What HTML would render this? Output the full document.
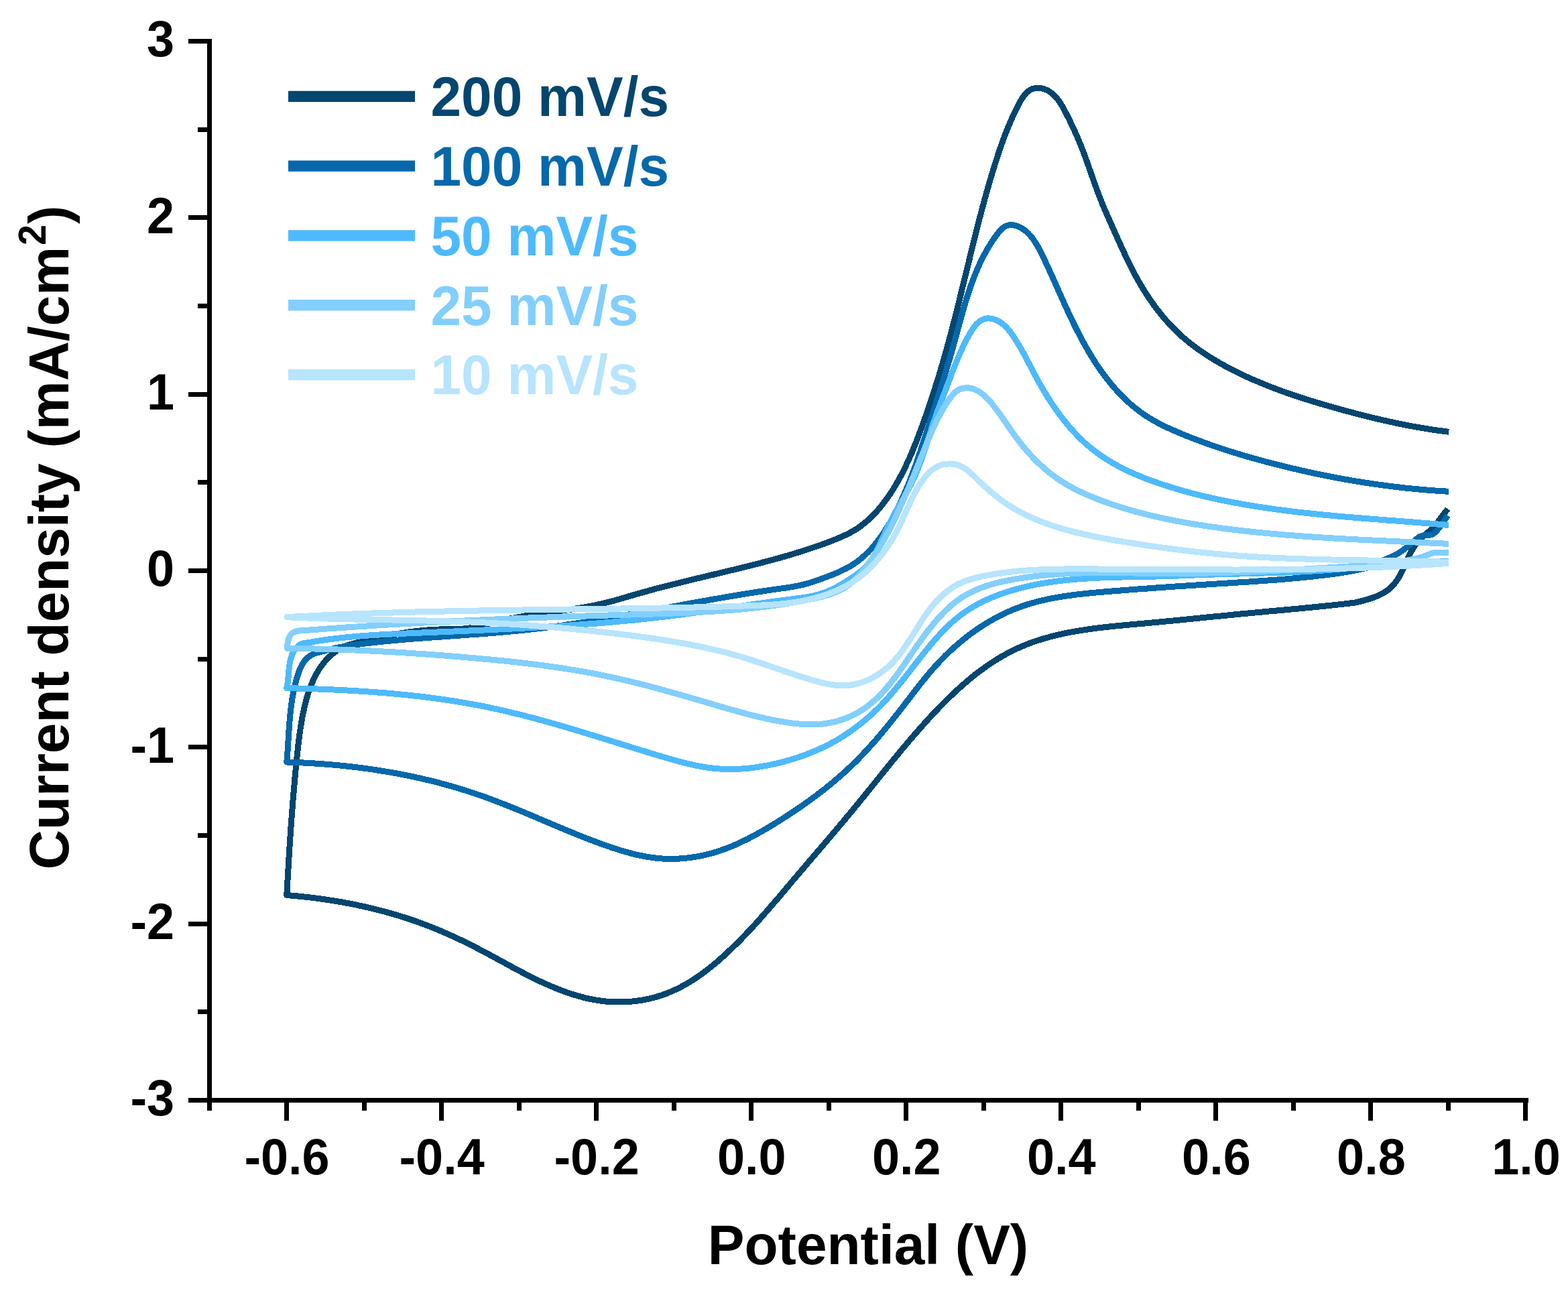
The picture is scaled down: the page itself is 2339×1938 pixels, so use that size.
<!DOCTYPE html>
<html lang="en"><head><meta charset="utf-8"><title>Cyclic voltammetry</title>
<style>html,body{margin:0;padding:0;background:#fff}svg{display:block}text{font-family:"Liberation Sans",sans-serif;font-weight:bold}</style></head><body>
<svg width="2339" height="1938" viewBox="0 0 2339 1938" role="img" aria-label="Cyclic voltammograms at scan rates from 10 to 200 mV/s">
<rect width="2339" height="1938" fill="#fff"/>
<g fill="none" stroke-width="9.0" stroke-linejoin="round" stroke-linecap="butt" shape-rendering="crispEdges">
<path d="M2159.7 759.3 C2159.0 760.2 2156.7 763.0 2155.2 764.8 C2153.8 766.7 2152.4 768.6 2151.0 770.4 C2149.6 772.3 2148.2 774.2 2146.8 776.1 C2145.4 777.9 2144.0 779.8 2142.5 781.6 C2141.0 783.4 2139.5 785.1 2137.9 786.8 C2136.3 788.5 2134.5 790.2 2132.8 791.8 C2131.0 793.4 2129.2 794.9 2127.4 796.5 C2125.6 798.1 2123.7 799.6 2122.0 801.2 C2120.2 802.8 2118.5 804.4 2116.9 806.1 C2115.3 807.8 2113.8 809.6 2112.4 811.4 C2111.1 813.2 2109.8 815.1 2108.6 817.0 C2107.3 819.0 2106.2 821.0 2105.1 823.0 C2104.0 825.1 2103.0 827.2 2102.0 829.3 C2101.0 831.4 2100.0 833.5 2099.1 835.7 C2098.1 837.8 2097.2 840.0 2096.2 842.2 C2095.2 844.4 2094.2 846.6 2093.2 848.7 C2092.2 850.9 2091.1 853.0 2090.0 855.2 C2088.9 857.3 2087.8 859.4 2086.6 861.4 C2085.3 863.4 2084.1 865.4 2082.7 867.3 C2081.4 869.2 2080.0 871.0 2078.4 872.8 C2076.9 874.5 2075.3 876.1 2073.6 877.6 C2071.8 879.2 2070.0 880.6 2068.1 881.9 C2066.2 883.2 2064.2 884.4 2062.1 885.5 C2060.0 886.7 2057.9 887.7 2055.7 888.7 C2053.5 889.6 2051.3 890.5 2049.1 891.3 C2046.8 892.2 2044.5 892.9 2042.2 893.6 C2039.9 894.4 2037.6 895.0 2035.3 895.6 C2033.1 896.3 2030.8 896.8 2028.5 897.4 C2026.3 898.0 2023.0 898.7 2021.9 899.0 L2021.9 899.0 C2020.2 899.2 2015.3 899.8 2012.0 900.2 C2008.7 900.6 2005.3 901.0 2002.0 901.3 C1998.7 901.7 1995.3 902.1 1992.0 902.5 C1988.7 902.8 1985.3 903.2 1982.0 903.5 C1978.6 903.9 1975.3 904.2 1971.9 904.6 C1968.5 904.9 1965.2 905.3 1961.8 905.6 C1958.5 905.9 1955.1 906.3 1951.7 906.6 C1948.3 906.9 1945.0 907.2 1941.6 907.6 C1938.2 907.9 1934.8 908.2 1931.5 908.5 C1928.1 908.8 1924.7 909.1 1921.3 909.5 C1918.0 909.8 1914.6 910.1 1911.2 910.4 C1907.8 910.7 1904.5 911.0 1901.1 911.3 C1897.7 911.6 1894.3 911.9 1891.0 912.2 C1887.6 912.6 1884.2 912.9 1880.9 913.2 C1877.5 913.5 1874.2 913.8 1870.8 914.1 C1867.4 914.4 1864.1 914.7 1860.8 915.1 C1857.4 915.4 1854.1 915.7 1850.7 916.0 C1847.4 916.3 1844.1 916.7 1840.7 917.0 C1837.4 917.3 1834.1 917.6 1830.8 918.0 C1827.4 918.3 1824.1 918.6 1820.8 919.0 C1817.5 919.3 1814.2 919.6 1810.8 919.9 C1807.5 920.3 1804.2 920.6 1800.9 920.9 C1797.6 921.3 1794.3 921.6 1790.9 921.9 C1787.6 922.3 1784.3 922.6 1781.0 922.9 C1777.7 923.2 1774.3 923.6 1771.0 923.9 C1767.7 924.2 1764.4 924.6 1761.0 924.9 C1757.7 925.2 1754.4 925.5 1751.1 925.9 C1747.7 926.2 1744.4 926.5 1741.0 926.8 C1737.7 927.2 1734.4 927.5 1731.0 927.8 C1727.6 928.1 1724.3 928.4 1720.9 928.7 C1717.6 929.1 1714.2 929.4 1710.8 929.7 C1707.5 930.0 1704.1 930.3 1700.7 930.6 C1697.3 930.9 1693.9 931.2 1690.5 931.5 C1687.1 931.8 1683.7 932.1 1680.3 932.4 C1676.9 932.8 1673.5 933.1 1670.1 933.4 C1666.7 933.7 1663.3 934.1 1659.9 934.4 C1656.5 934.8 1653.1 935.2 1649.7 935.5 C1646.3 935.9 1642.9 936.3 1639.5 936.7 C1636.1 937.1 1632.7 937.6 1629.4 938.0 C1626.0 938.5 1622.6 939.0 1619.2 939.5 C1615.9 940.0 1612.5 940.5 1609.2 941.0 C1605.8 941.6 1602.5 942.2 1599.2 942.8 C1595.8 943.4 1592.5 944.1 1589.2 944.7 C1585.9 945.4 1582.6 946.1 1579.4 946.9 C1576.1 947.6 1572.8 948.4 1569.6 949.3 C1566.3 950.1 1563.1 951.0 1559.9 951.9 C1556.7 952.8 1553.5 953.8 1550.4 954.8 C1547.2 955.8 1544.0 956.8 1540.9 957.9 C1537.8 959.1 1534.7 960.2 1531.6 961.4 C1528.5 962.6 1525.5 963.9 1522.4 965.2 C1519.4 966.5 1516.4 967.9 1513.4 969.3 C1510.4 970.8 1507.5 972.3 1504.5 973.8 C1501.6 975.4 1498.7 977.0 1495.8 978.6 C1492.9 980.3 1490.1 982.0 1487.2 983.7 C1484.4 985.5 1481.6 987.3 1478.8 989.1 C1476.0 990.9 1473.3 992.8 1470.5 994.8 C1467.8 996.7 1465.1 998.7 1462.4 1000.7 C1459.7 1002.7 1457.0 1004.7 1454.3 1006.8 C1451.7 1008.9 1449.0 1011.0 1446.4 1013.2 C1443.8 1015.4 1441.2 1017.5 1438.7 1019.8 C1436.1 1022.0 1433.6 1024.2 1431.0 1026.5 C1428.5 1028.8 1426.0 1031.1 1423.5 1033.4 C1421.0 1035.8 1418.5 1038.1 1416.1 1040.5 C1413.6 1042.9 1411.2 1045.3 1408.8 1047.7 C1406.4 1050.1 1404.0 1052.6 1401.6 1055.0 C1399.2 1057.5 1396.9 1059.9 1394.5 1062.4 C1392.2 1064.9 1389.8 1067.4 1387.5 1069.9 C1385.2 1072.4 1382.9 1074.9 1380.6 1077.5 C1378.4 1080.0 1376.1 1082.5 1373.9 1085.0 C1371.6 1087.6 1369.4 1090.1 1367.1 1092.7 C1364.9 1095.2 1362.7 1097.8 1360.5 1100.3 C1358.3 1102.9 1356.1 1105.5 1354.0 1108.0 C1351.8 1110.6 1349.6 1113.2 1347.5 1115.7 C1345.3 1118.3 1343.2 1120.9 1341.0 1123.5 C1338.9 1126.1 1336.8 1128.7 1334.6 1131.3 C1332.5 1133.8 1330.4 1136.4 1328.3 1139.0 C1326.2 1141.6 1324.1 1144.2 1322.0 1146.8 C1319.9 1149.4 1317.8 1152.0 1315.7 1154.6 C1313.5 1157.2 1311.5 1159.8 1309.4 1162.4 C1307.3 1165.1 1305.2 1167.7 1303.1 1170.3 C1301.0 1172.9 1298.9 1175.5 1296.8 1178.1 C1294.7 1180.7 1292.6 1183.3 1290.5 1185.9 C1288.4 1188.5 1286.2 1191.1 1284.1 1193.7 C1282.0 1196.3 1279.9 1198.9 1277.8 1201.5 C1275.6 1204.1 1273.5 1206.7 1271.4 1209.3 C1269.2 1211.9 1267.1 1214.5 1264.9 1217.0 C1262.8 1219.6 1260.6 1222.2 1258.5 1224.8 C1256.3 1227.4 1254.1 1230.0 1251.9 1232.6 C1249.8 1235.1 1247.6 1237.7 1245.4 1240.3 C1243.2 1242.9 1241.0 1245.4 1238.9 1248.0 C1236.7 1250.6 1234.5 1253.2 1232.3 1255.7 C1230.1 1258.3 1227.9 1260.9 1225.7 1263.4 C1223.5 1266.0 1221.3 1268.6 1219.1 1271.1 C1216.9 1273.7 1214.7 1276.3 1212.5 1278.9 C1210.3 1281.4 1208.1 1284.0 1205.9 1286.6 C1203.7 1289.1 1201.6 1291.7 1199.4 1294.3 C1197.2 1296.8 1195.0 1299.4 1192.8 1302.0 C1190.6 1304.5 1188.4 1307.1 1186.3 1309.7 C1184.1 1312.2 1181.9 1314.8 1179.7 1317.4 C1177.6 1320.0 1175.4 1322.5 1173.2 1325.1 C1171.1 1327.7 1168.9 1330.2 1166.7 1332.8 C1164.5 1335.4 1162.4 1337.9 1160.2 1340.5 C1158.0 1343.0 1155.8 1345.6 1153.6 1348.1 C1151.4 1350.7 1149.3 1353.2 1147.1 1355.7 C1144.9 1358.3 1142.6 1360.8 1140.4 1363.3 C1138.2 1365.9 1136.0 1368.4 1133.7 1370.9 C1131.5 1373.4 1129.2 1375.9 1127.0 1378.4 C1124.7 1380.9 1122.4 1383.3 1120.1 1385.8 C1117.8 1388.3 1115.5 1390.7 1113.2 1393.2 C1110.9 1395.6 1108.5 1398.0 1106.2 1400.5 C1103.8 1402.9 1101.4 1405.3 1099.0 1407.7 C1096.6 1410.1 1094.2 1412.4 1091.7 1414.8 C1089.3 1417.2 1086.8 1419.5 1084.3 1421.8 C1081.8 1424.2 1079.3 1426.5 1076.8 1428.7 C1074.2 1431.0 1071.6 1433.3 1069.0 1435.5 C1066.4 1437.7 1063.8 1439.9 1061.2 1442.0 C1058.5 1444.2 1055.9 1446.3 1053.2 1448.3 C1050.4 1450.4 1047.7 1452.4 1045.0 1454.4 C1042.2 1456.3 1039.4 1458.3 1036.6 1460.1 C1033.8 1462.0 1030.9 1463.8 1028.1 1465.5 C1025.2 1467.3 1022.3 1468.9 1019.3 1470.5 C1016.4 1472.2 1013.4 1473.7 1010.4 1475.2 C1007.4 1476.6 1004.4 1478.0 1001.3 1479.3 C998.3 1480.6 995.2 1481.9 992.1 1483.0 C988.9 1484.2 985.8 1485.2 982.6 1486.2 C979.4 1487.2 976.2 1488.1 973.0 1488.9 C969.7 1489.7 966.5 1490.4 963.2 1491.1 C959.9 1491.8 956.6 1492.3 953.3 1492.8 C950.0 1493.3 946.7 1493.7 943.4 1494.0 C940.1 1494.4 936.7 1494.6 933.4 1494.8 C930.0 1494.9 926.7 1495.0 923.3 1495.0 C920.0 1495.0 916.6 1494.9 913.3 1494.7 C910.0 1494.6 906.6 1494.3 903.3 1494.0 C899.9 1493.6 896.6 1493.2 893.3 1492.7 C890.0 1492.2 886.7 1491.7 883.4 1491.0 C880.1 1490.4 876.8 1489.7 873.5 1488.9 C870.2 1488.1 867.0 1487.2 863.7 1486.3 C860.4 1485.4 857.2 1484.4 854.0 1483.4 C850.7 1482.4 847.5 1481.3 844.3 1480.2 C841.1 1479.0 838.0 1477.9 834.8 1476.6 C831.6 1475.4 828.5 1474.1 825.3 1472.8 C822.2 1471.5 819.1 1470.2 816.0 1468.8 C812.9 1467.4 809.8 1466.0 806.7 1464.6 C803.6 1463.1 800.6 1461.7 797.6 1460.2 C794.5 1458.7 791.5 1457.2 788.5 1455.7 C785.5 1454.1 782.5 1452.6 779.5 1451.0 C776.5 1449.4 773.5 1447.9 770.5 1446.3 C767.6 1444.7 764.6 1443.1 761.6 1441.5 C758.7 1439.9 755.7 1438.3 752.8 1436.6 C749.8 1435.0 746.8 1433.4 743.9 1431.8 C740.9 1430.2 738.0 1428.6 735.0 1427.0 C732.1 1425.3 729.1 1423.7 726.1 1422.2 C723.2 1420.6 720.2 1419.0 717.2 1417.4 C714.2 1415.9 711.2 1414.3 708.2 1412.8 C705.3 1411.2 702.2 1409.7 699.2 1408.2 C696.2 1406.7 693.2 1405.2 690.2 1403.8 C687.2 1402.3 684.1 1400.9 681.1 1399.5 C678.0 1398.0 675.0 1396.6 671.9 1395.3 C668.8 1393.9 665.8 1392.5 662.7 1391.2 C659.6 1389.8 656.5 1388.5 653.4 1387.2 C650.3 1385.9 647.2 1384.7 644.1 1383.4 C641.0 1382.2 637.8 1381.0 634.7 1379.8 C631.5 1378.6 628.4 1377.4 625.2 1376.3 C622.1 1375.1 618.9 1374.0 615.7 1372.9 C612.5 1371.8 609.3 1370.7 606.1 1369.7 C602.9 1368.7 599.7 1367.7 596.5 1366.7 C593.3 1365.7 590.0 1364.7 586.8 1363.8 C583.6 1362.8 580.3 1361.9 577.1 1361.0 C573.8 1360.1 570.6 1359.2 567.3 1358.4 C564.0 1357.5 560.7 1356.7 557.5 1355.9 C554.2 1355.1 550.9 1354.3 547.6 1353.6 C544.3 1352.8 541.0 1352.1 537.7 1351.4 C534.4 1350.7 531.1 1350.0 527.8 1349.3 C524.5 1348.7 521.2 1348.0 517.9 1347.4 C514.5 1346.8 511.2 1346.2 507.9 1345.6 C504.6 1345.0 501.2 1344.5 497.9 1343.9 C494.6 1343.4 491.2 1342.9 487.9 1342.4 C484.6 1341.9 481.2 1341.4 477.9 1340.9 C474.6 1340.5 471.2 1340.0 467.9 1339.6 C464.5 1339.2 461.2 1338.8 457.9 1338.4 C454.5 1338.0 451.2 1337.7 447.8 1337.3 C444.5 1337.0 441.2 1336.7 437.8 1336.4 C434.5 1336.1 429.5 1335.6 427.8 1335.5 L427.8 1335.5 C427.9 1333.8 428.2 1328.6 428.3 1325.2 C428.5 1321.8 428.7 1318.3 428.9 1314.9 C429.1 1311.5 429.3 1308.1 429.5 1304.6 C429.7 1301.2 429.9 1297.8 430.1 1294.4 C430.3 1290.9 430.5 1287.5 430.7 1284.1 C430.9 1280.6 431.1 1277.2 431.3 1273.8 C431.5 1270.4 431.8 1266.9 432.0 1263.5 C432.2 1260.1 432.4 1256.7 432.7 1253.3 C432.9 1249.8 433.1 1246.4 433.4 1243.0 C433.6 1239.6 433.8 1236.1 434.1 1232.7 C434.3 1229.3 434.6 1225.9 434.8 1222.5 C435.1 1219.0 435.3 1215.6 435.6 1212.2 C435.9 1208.8 436.1 1205.4 436.4 1201.9 C436.7 1198.5 437.0 1195.1 437.2 1191.7 C437.5 1188.3 437.8 1184.8 438.1 1181.4 C438.4 1178.0 438.7 1174.6 439.0 1171.2 C439.3 1167.8 439.6 1164.3 439.9 1160.9 C440.2 1157.5 440.6 1154.1 440.9 1150.7 C441.2 1147.3 441.5 1143.8 441.9 1140.4 C442.2 1137.0 442.6 1133.6 442.9 1130.2 C443.3 1126.8 443.6 1123.4 444.0 1119.9 C444.3 1116.5 444.7 1113.1 445.1 1109.7 C445.5 1106.3 445.9 1102.9 446.4 1099.5 C446.8 1096.1 447.3 1092.7 447.8 1089.3 C448.3 1085.9 448.8 1082.5 449.4 1079.1 C449.9 1075.7 450.5 1072.4 451.2 1069.0 C451.8 1065.6 452.5 1062.2 453.3 1058.9 C454.0 1055.5 454.8 1052.1 455.7 1048.8 C456.5 1045.5 457.4 1042.1 458.4 1038.8 C459.4 1035.5 460.4 1032.2 461.6 1029.0 C462.7 1025.7 463.9 1022.5 465.2 1019.4 C466.6 1016.2 468.0 1013.1 469.5 1010.1 C471.0 1007.0 472.6 1004.0 474.4 1001.1 C476.1 998.3 478.0 995.4 480.0 992.7 C482.0 990.0 484.2 987.3 486.4 984.8 C488.7 982.3 491.2 979.9 493.8 977.6 C496.3 975.3 500.6 972.1 502.0 971.0 L502.0 971.0 C503.4 970.2 507.7 967.4 510.7 966.0 C513.6 964.5 516.7 963.4 519.9 962.3 C523.0 961.2 526.3 960.4 529.5 959.6 C532.7 958.7 536.0 958.1 539.3 957.3 C542.6 956.6 545.9 955.8 549.2 955.1 C552.4 954.3 555.7 953.5 559.0 952.8 C562.3 952.0 565.5 951.2 568.8 950.5 C572.1 949.8 575.4 949.1 578.7 948.4 C582.0 947.7 585.3 947.1 588.5 946.5 C591.8 945.9 595.1 945.3 598.4 944.7 C601.7 944.2 605.1 943.7 608.4 943.2 C611.7 942.7 615.0 942.3 618.3 941.9 C621.6 941.5 625.0 941.1 628.3 940.8 C631.6 940.4 635.0 940.1 638.3 939.9 C641.6 939.6 645.0 939.4 648.3 939.3 C651.7 939.1 655.0 939.0 658.4 938.9 C661.8 938.8 665.1 938.8 668.5 938.8 C671.9 938.7 675.2 938.7 678.6 938.6 C682.0 938.6 685.3 938.5 688.6 938.2 C692.0 938.0 695.3 937.7 698.6 937.3 C701.9 936.9 705.2 936.3 708.5 935.6 C711.8 935.0 715.0 934.2 718.3 933.3 C721.5 932.5 724.7 931.6 728.0 930.8 C731.2 929.9 734.5 929.0 737.7 928.2 C741.0 927.4 744.2 926.6 747.5 925.9 C750.8 925.1 754.1 924.4 757.3 923.7 C760.6 923.0 763.9 922.4 767.2 921.8 C770.5 921.1 773.8 920.5 777.1 920.0 C780.4 919.4 783.7 918.9 787.0 918.3 C790.3 917.8 793.6 917.3 797.0 916.8 C800.3 916.3 803.6 915.8 806.9 915.4 C810.3 914.9 813.6 914.4 816.9 914.0 C820.3 913.5 823.6 913.1 826.9 912.6 C830.3 912.2 833.6 911.7 836.9 911.2 C840.3 910.8 843.6 910.3 846.9 909.8 C850.2 909.3 853.6 908.9 856.9 908.3 C860.2 907.8 863.5 907.3 866.8 906.8 C870.1 906.2 873.4 905.6 876.7 905.0 C880.0 904.4 883.3 903.8 886.6 903.1 C889.9 902.4 893.1 901.7 896.4 901.0 C899.7 900.3 902.9 899.5 906.2 898.7 C909.4 897.8 912.6 897.0 915.9 896.1 C919.1 895.2 922.3 894.3 925.5 893.4 C928.7 892.5 932.0 891.5 935.2 890.6 C938.4 889.6 941.6 888.7 944.8 887.8 C948.0 886.8 951.2 885.9 954.5 885.0 C957.7 884.1 960.9 883.1 964.2 882.3 C967.4 881.4 970.6 880.5 973.9 879.6 C977.1 878.7 980.3 877.9 983.6 877.0 C986.8 876.2 990.1 875.3 993.3 874.5 C996.6 873.7 999.8 872.8 1003.1 872.0 C1006.3 871.2 1009.6 870.4 1012.9 869.6 C1016.1 868.8 1019.4 868.0 1022.6 867.2 C1025.9 866.4 1029.2 865.6 1032.4 864.8 C1035.7 864.0 1039.0 863.2 1042.2 862.5 C1045.5 861.7 1048.8 860.9 1052.0 860.1 C1055.3 859.3 1058.6 858.6 1061.8 857.8 C1065.1 857.0 1068.4 856.2 1071.6 855.4 C1074.9 854.7 1078.2 853.9 1081.4 853.1 C1084.7 852.3 1088.0 851.5 1091.2 850.7 C1094.5 850.0 1097.8 849.2 1101.0 848.4 C1104.3 847.6 1107.5 846.8 1110.8 846.0 C1114.0 845.2 1117.3 844.3 1120.5 843.5 C1123.8 842.7 1127.0 841.9 1130.3 841.0 C1133.5 840.2 1136.8 839.4 1140.0 838.5 C1143.2 837.7 1146.5 836.8 1149.7 835.9 C1152.9 835.1 1156.2 834.2 1159.4 833.3 C1162.6 832.4 1165.8 831.5 1169.0 830.6 C1172.2 829.6 1175.4 828.7 1178.7 827.8 C1181.9 826.8 1185.0 825.8 1188.2 824.9 C1191.4 823.9 1194.6 822.9 1197.8 821.9 C1201.0 820.9 1204.2 819.9 1207.3 818.8 C1210.5 817.8 1213.6 816.7 1216.8 815.6 C1220.0 814.5 1223.1 813.4 1226.3 812.3 C1229.4 811.2 1232.6 810.0 1235.7 808.8 C1238.9 807.6 1242.0 806.4 1245.2 805.1 C1248.3 803.8 1251.5 802.5 1254.6 801.2 C1257.7 799.8 1260.9 798.4 1263.9 796.9 C1267.0 795.4 1270.0 793.8 1272.9 792.1 C1275.8 790.4 1278.7 788.6 1281.4 786.7 C1284.2 784.8 1286.8 782.7 1289.4 780.6 C1292.0 778.5 1294.5 776.3 1297.0 774.1 C1299.4 771.8 1301.8 769.4 1304.0 767.0 C1306.3 764.6 1308.6 762.2 1310.7 759.6 C1312.9 757.1 1315.0 754.5 1317.0 751.9 C1319.1 749.3 1321.1 746.6 1323.0 743.9 C1325.0 741.2 1326.8 738.4 1328.7 735.7 C1330.5 732.9 1332.3 730.1 1334.0 727.2 C1335.7 724.4 1337.4 721.5 1339.1 718.6 C1340.7 715.7 1342.3 712.8 1343.9 709.8 C1345.5 706.9 1347.0 703.9 1348.5 700.9 C1350.0 697.9 1351.4 694.8 1352.8 691.8 C1354.2 688.7 1355.6 685.7 1357.0 682.6 C1358.3 679.5 1359.7 676.4 1361.0 673.3 C1362.3 670.2 1363.5 667.0 1364.8 663.9 C1366.1 660.8 1367.3 657.6 1368.5 654.5 C1369.7 651.3 1370.9 648.2 1372.1 645.0 C1373.3 641.9 1374.4 638.7 1375.6 635.5 C1376.7 632.4 1377.9 629.2 1379.0 626.0 C1380.1 622.9 1381.3 619.7 1382.4 616.5 C1383.5 613.4 1384.6 610.2 1385.6 607.0 C1386.7 603.9 1387.8 600.7 1388.8 597.5 C1389.9 594.3 1390.9 591.1 1392.0 588.0 C1393.0 584.8 1394.0 581.6 1395.0 578.4 C1396.0 575.2 1397.0 572.0 1398.0 568.9 C1399.0 565.7 1400.0 562.5 1401.0 559.3 C1401.9 556.1 1402.9 552.9 1403.8 549.7 C1404.8 546.5 1405.7 543.3 1406.7 540.1 C1407.6 536.9 1408.5 533.6 1409.4 530.4 C1410.3 527.2 1411.2 524.0 1412.1 520.8 C1413.0 517.6 1413.9 514.3 1414.8 511.1 C1415.7 507.9 1416.6 504.7 1417.4 501.4 C1418.3 498.2 1419.1 495.0 1420.0 491.7 C1420.8 488.5 1421.7 485.2 1422.5 482.0 C1423.4 478.7 1424.2 475.5 1425.0 472.2 C1425.8 469.0 1426.7 465.7 1427.5 462.5 C1428.3 459.2 1429.1 456.0 1429.9 452.7 C1430.7 449.5 1431.5 446.2 1432.3 442.9 C1433.1 439.7 1433.9 436.4 1434.7 433.2 C1435.5 429.9 1436.3 426.6 1437.1 423.4 C1437.9 420.1 1438.7 416.8 1439.5 413.6 C1440.3 410.3 1441.1 407.1 1441.9 403.8 C1442.7 400.5 1443.5 397.3 1444.3 394.0 C1445.1 390.7 1445.9 387.5 1446.7 384.2 C1447.5 380.9 1448.3 377.7 1449.1 374.4 C1449.9 371.1 1450.7 367.9 1451.5 364.6 C1452.3 361.4 1453.1 358.1 1453.9 354.8 C1454.7 351.6 1455.5 348.3 1456.4 345.1 C1457.2 341.8 1458.0 338.6 1458.8 335.3 C1459.7 332.1 1460.5 328.8 1461.3 325.6 C1462.2 322.3 1463.0 319.1 1463.9 315.9 C1464.8 312.6 1465.6 309.4 1466.5 306.1 C1467.4 302.9 1468.2 299.7 1469.1 296.4 C1470.0 293.2 1470.9 290.0 1471.8 286.8 C1472.7 283.6 1473.6 280.3 1474.6 277.1 C1475.5 273.9 1476.4 270.7 1477.4 267.5 C1478.3 264.3 1479.3 261.1 1480.2 257.9 C1481.2 254.7 1482.2 251.5 1483.2 248.3 C1484.2 245.2 1485.2 242.0 1486.2 238.8 C1487.2 235.6 1488.3 232.5 1489.3 229.3 C1490.4 226.1 1491.4 223.0 1492.5 219.8 C1493.6 216.7 1494.7 213.5 1495.9 210.4 C1497.0 207.2 1498.2 204.1 1499.4 200.9 C1500.6 197.8 1501.8 194.6 1503.1 191.5 C1504.4 188.4 1505.7 185.3 1507.1 182.1 C1508.4 179.0 1509.8 175.9 1511.2 172.8 C1512.7 169.7 1514.1 166.5 1515.7 163.4 C1517.2 160.3 1518.8 157.1 1520.4 154.1 C1522.1 151.1 1523.8 147.9 1525.7 145.2 C1527.6 142.5 1529.6 139.8 1531.9 137.7 C1534.3 135.7 1536.9 133.9 1539.7 132.8 C1542.5 131.7 1545.7 131.2 1548.8 131.2 C1551.9 131.2 1555.2 131.9 1558.2 133.0 C1561.3 134.0 1564.2 135.6 1566.9 137.5 C1569.6 139.3 1572.0 141.6 1574.3 144.1 C1576.6 146.5 1578.6 149.3 1580.6 152.1 C1582.6 155.0 1584.4 158.1 1586.1 161.1 C1587.8 164.2 1589.4 167.4 1591.0 170.5 C1592.6 173.6 1594.2 176.8 1595.7 179.8 C1597.2 182.9 1598.6 185.9 1600.0 188.9 C1601.5 191.9 1602.8 194.9 1604.2 197.9 C1605.5 200.9 1606.8 203.9 1608.1 206.9 C1609.4 210.0 1610.7 213.0 1611.9 216.0 C1613.1 219.1 1614.3 222.2 1615.5 225.3 C1616.7 228.4 1617.9 231.5 1619.0 234.6 C1620.2 237.8 1621.3 240.9 1622.4 244.1 C1623.6 247.3 1624.7 250.4 1625.8 253.6 C1626.9 256.8 1628.0 260.0 1629.1 263.2 C1630.3 266.4 1631.4 269.6 1632.5 272.7 C1633.7 275.9 1634.8 279.1 1636.0 282.3 C1637.1 285.5 1638.3 288.6 1639.5 291.8 C1640.7 294.9 1641.9 298.0 1643.2 301.1 C1644.4 304.3 1645.7 307.3 1647.0 310.4 C1648.3 313.5 1649.7 316.6 1651.0 319.6 C1652.3 322.7 1653.7 325.7 1655.0 328.7 C1656.4 331.8 1657.8 334.8 1659.1 337.9 C1660.5 340.9 1661.8 344.0 1663.2 347.0 C1664.5 350.1 1665.9 353.1 1667.3 356.2 C1668.6 359.2 1670.0 362.3 1671.4 365.3 C1672.8 368.4 1674.1 371.4 1675.6 374.4 C1677.0 377.5 1678.4 380.5 1679.8 383.5 C1681.3 386.6 1682.7 389.6 1684.2 392.6 C1685.7 395.6 1687.2 398.6 1688.7 401.6 C1690.2 404.6 1691.8 407.5 1693.4 410.5 C1695.0 413.4 1696.6 416.4 1698.3 419.3 C1699.9 422.2 1701.6 425.1 1703.4 428.0 C1705.1 430.9 1706.9 433.8 1708.7 436.6 C1710.5 439.4 1712.3 442.3 1714.2 445.0 C1716.1 447.8 1718.0 450.6 1720.0 453.3 C1721.9 456.1 1723.9 458.8 1726.0 461.4 C1728.0 464.1 1730.1 466.7 1732.2 469.3 C1734.3 471.9 1736.5 474.5 1738.7 477.0 C1740.9 479.5 1743.1 482.0 1745.4 484.5 C1747.7 486.9 1750.0 489.3 1752.4 491.7 C1754.7 494.0 1757.1 496.3 1759.6 498.6 C1762.0 500.9 1764.5 503.1 1767.1 505.3 C1769.6 507.4 1772.2 509.6 1774.8 511.6 C1777.4 513.7 1780.1 515.8 1782.8 517.8 C1785.4 519.8 1788.2 521.7 1790.9 523.6 C1793.7 525.5 1796.4 527.4 1799.3 529.2 C1802.1 531.1 1804.9 532.9 1807.8 534.6 C1810.6 536.4 1813.5 538.1 1816.4 539.8 C1819.3 541.5 1822.3 543.2 1825.2 544.8 C1828.1 546.4 1831.1 548.0 1834.1 549.5 C1837.1 551.1 1840.1 552.6 1843.1 554.1 C1846.1 555.6 1849.1 557.1 1852.1 558.6 C1855.1 560.0 1858.2 561.4 1861.2 562.8 C1864.3 564.2 1867.3 565.6 1870.4 566.9 C1873.5 568.2 1876.6 569.5 1879.7 570.8 C1882.8 572.1 1885.9 573.4 1889.0 574.6 C1892.1 575.9 1895.2 577.1 1898.3 578.3 C1901.4 579.5 1904.6 580.7 1907.7 581.8 C1910.9 583.0 1914.0 584.1 1917.2 585.3 C1920.3 586.4 1923.5 587.5 1926.7 588.6 C1929.8 589.6 1933.0 590.7 1936.2 591.8 C1939.4 592.8 1942.6 593.8 1945.8 594.9 C1949.0 595.9 1952.2 596.9 1955.4 597.9 C1958.6 598.9 1961.8 599.8 1965.0 600.8 C1968.2 601.8 1971.4 602.7 1974.6 603.7 C1977.9 604.6 1981.1 605.5 1984.3 606.5 C1987.5 607.4 1990.8 608.3 1994.0 609.2 C1997.2 610.1 2000.5 611.0 2003.7 611.9 C2006.9 612.8 2010.2 613.6 2013.4 614.5 C2016.7 615.4 2019.9 616.2 2023.1 617.1 C2026.4 617.9 2029.6 618.8 2032.9 619.6 C2036.1 620.4 2039.4 621.2 2042.6 622.0 C2045.9 622.8 2049.2 623.6 2052.4 624.4 C2055.7 625.2 2058.9 625.9 2062.2 626.7 C2065.5 627.4 2068.7 628.2 2072.0 628.9 C2075.3 629.6 2078.6 630.3 2081.8 631.0 C2085.1 631.7 2088.4 632.4 2091.7 633.0 C2095.0 633.7 2098.3 634.3 2101.5 635.0 C2104.8 635.6 2108.1 636.2 2111.4 636.8 C2114.7 637.4 2118.0 638.0 2121.3 638.5 C2124.6 639.1 2128.0 639.6 2131.3 640.2 C2134.6 640.7 2137.9 641.2 2141.2 641.7 C2144.5 642.1 2147.9 642.6 2151.2 643.0 C2154.5 643.5 2159.5 644.1 2161.2 644.3" stroke="#04466F"/>
<path d="M2159.7 769.2 C2159.2 769.9 2157.8 771.9 2156.9 773.3 C2156.0 774.6 2155.1 776.0 2154.1 777.4 C2153.2 778.7 2152.2 780.1 2151.3 781.4 C2150.3 782.8 2149.3 784.1 2148.3 785.4 C2147.3 786.8 2146.3 788.1 2145.2 789.4 C2144.1 790.7 2143.0 792.0 2141.8 793.2 C2140.7 794.4 2139.4 795.6 2138.1 796.4 C2136.7 797.2 2135.1 797.7 2133.5 798.0 C2131.9 798.4 2130.2 798.4 2128.5 798.5 C2126.8 798.7 2125.0 798.6 2123.4 798.9 C2121.8 799.2 2120.2 799.5 2118.8 800.2 C2117.3 800.8 2116.1 801.9 2114.8 802.8 C2113.5 803.8 2112.3 804.9 2111.1 805.9 C2109.8 807.0 2108.5 808.0 2107.3 809.1 C2106.0 810.2 2104.8 811.2 2103.5 812.3 C2102.2 813.4 2101.0 814.4 2099.7 815.5 C2098.4 816.5 2097.1 817.6 2095.8 818.6 C2094.4 819.6 2093.1 820.6 2091.8 821.5 C2090.4 822.5 2089.0 823.4 2087.6 824.3 C2086.3 825.2 2084.8 826.0 2083.4 826.9 C2082.0 827.7 2080.5 828.4 2079.0 829.2 C2077.5 829.9 2076.0 830.6 2074.5 831.3 C2073.0 831.9 2071.4 832.6 2069.9 833.2 C2068.4 833.9 2066.8 834.5 2065.3 835.2 C2063.8 835.8 2062.2 836.4 2060.7 837.1 C2059.2 837.7 2057.6 838.4 2056.1 839.1 C2054.6 839.7 2053.1 840.4 2051.6 841.2 C2050.1 841.9 2048.7 842.7 2047.2 843.5 C2045.8 844.3 2043.7 845.6 2043.0 846.0 L2043.0 846.0 C2041.4 846.4 2036.5 847.7 2033.3 848.5 C2030.0 849.2 2026.7 849.9 2023.5 850.6 C2020.2 851.3 2016.9 851.9 2013.6 852.5 C2010.3 853.1 2007.0 853.6 2003.7 854.2 C2000.4 854.7 1997.1 855.2 1993.8 855.7 C1990.5 856.1 1987.2 856.6 1983.9 857.0 C1980.6 857.4 1977.3 857.8 1973.9 858.2 C1970.6 858.6 1967.3 859.0 1964.0 859.4 C1960.6 859.8 1957.3 860.2 1954.0 860.5 C1950.6 860.9 1947.3 861.2 1943.9 861.5 C1940.6 861.9 1937.2 862.2 1933.9 862.5 C1930.6 862.8 1927.2 863.1 1923.9 863.4 C1920.5 863.7 1917.2 864.0 1913.8 864.3 C1910.4 864.5 1907.1 864.8 1903.7 865.1 C1900.4 865.3 1897.0 865.6 1893.7 865.8 C1890.3 866.1 1887.0 866.3 1883.6 866.6 C1880.2 866.8 1876.9 867.0 1873.5 867.3 C1870.2 867.5 1866.8 867.7 1863.5 868.0 C1860.1 868.2 1856.7 868.4 1853.4 868.6 C1850.0 868.8 1846.7 869.0 1843.3 869.2 C1840.0 869.5 1836.6 869.7 1833.3 869.9 C1829.9 870.1 1826.6 870.3 1823.2 870.5 C1819.9 870.7 1816.5 870.9 1813.2 871.1 C1809.8 871.3 1806.5 871.6 1803.1 871.8 C1799.8 872.0 1796.5 872.2 1793.1 872.4 C1789.8 872.6 1786.5 872.8 1783.1 873.1 C1779.8 873.3 1776.5 873.5 1773.1 873.7 C1769.8 873.9 1766.5 874.2 1763.1 874.4 C1759.8 874.6 1756.5 874.8 1753.2 875.0 C1749.8 875.3 1746.5 875.5 1743.2 875.7 C1739.8 876.0 1736.5 876.2 1733.2 876.4 C1729.8 876.7 1726.5 876.9 1723.2 877.1 C1719.8 877.4 1716.5 877.6 1713.2 877.9 C1709.8 878.1 1706.5 878.3 1703.2 878.6 C1699.8 878.8 1696.5 879.1 1693.2 879.3 C1689.8 879.6 1686.5 879.8 1683.1 880.1 C1679.8 880.4 1676.4 880.6 1673.1 880.9 C1669.7 881.1 1666.4 881.4 1663.0 881.7 C1659.7 881.9 1656.3 882.2 1652.9 882.5 C1649.6 882.8 1646.2 883.0 1642.9 883.3 C1639.5 883.6 1636.1 883.9 1632.8 884.2 C1629.4 884.5 1626.0 884.9 1622.7 885.2 C1619.3 885.5 1615.9 885.9 1612.6 886.3 C1609.2 886.6 1605.9 887.0 1602.5 887.5 C1599.2 887.9 1595.8 888.3 1592.5 888.8 C1589.2 889.3 1585.9 889.8 1582.5 890.3 C1579.2 890.9 1575.9 891.5 1572.6 892.1 C1569.3 892.7 1566.1 893.3 1562.8 894.0 C1559.5 894.7 1556.3 895.5 1553.0 896.2 C1549.8 897.0 1546.5 897.8 1543.3 898.7 C1540.1 899.6 1536.9 900.5 1533.8 901.5 C1530.6 902.5 1527.4 903.5 1524.3 904.6 C1521.1 905.7 1518.0 906.9 1514.9 908.1 C1511.8 909.3 1508.8 910.6 1505.7 911.9 C1502.6 913.3 1499.6 914.6 1496.6 916.1 C1493.6 917.5 1490.6 919.1 1487.7 920.6 C1484.7 922.2 1481.8 923.8 1478.9 925.5 C1476.0 927.1 1473.1 928.8 1470.2 930.6 C1467.4 932.4 1464.5 934.2 1461.7 936.0 C1458.9 937.9 1456.1 939.8 1453.4 941.8 C1450.6 943.7 1447.9 945.7 1445.2 947.7 C1442.6 949.8 1439.9 951.9 1437.3 954.0 C1434.6 956.1 1432.0 958.3 1429.5 960.5 C1426.9 962.6 1424.4 964.9 1421.9 967.1 C1419.4 969.4 1416.9 971.7 1414.5 974.0 C1412.0 976.4 1409.6 978.7 1407.3 981.1 C1404.9 983.5 1402.6 985.9 1400.3 988.4 C1398.0 990.9 1395.7 993.3 1393.5 995.8 C1391.2 998.3 1389.1 1000.9 1386.9 1003.4 C1384.7 1006.0 1382.6 1008.5 1380.5 1011.1 C1378.4 1013.7 1376.3 1016.3 1374.2 1018.9 C1372.1 1021.5 1370.0 1024.2 1368.0 1026.8 C1365.9 1029.4 1363.9 1032.1 1361.9 1034.7 C1359.8 1037.4 1357.8 1040.0 1355.8 1042.7 C1353.7 1045.3 1351.7 1048.0 1349.6 1050.6 C1347.6 1053.3 1345.6 1056.0 1343.5 1058.6 C1341.4 1061.3 1339.4 1063.9 1337.3 1066.5 C1335.2 1069.2 1333.1 1071.8 1331.0 1074.4 C1328.9 1077.1 1326.8 1079.7 1324.7 1082.3 C1322.6 1084.9 1320.5 1087.5 1318.3 1090.1 C1316.2 1092.6 1314.0 1095.2 1311.8 1097.8 C1309.7 1100.3 1307.5 1102.9 1305.3 1105.4 C1303.0 1107.9 1300.8 1110.4 1298.6 1112.9 C1296.3 1115.4 1294.1 1117.9 1291.8 1120.3 C1289.5 1122.8 1287.2 1125.2 1284.9 1127.7 C1282.6 1130.1 1280.2 1132.5 1277.9 1134.8 C1275.5 1137.2 1273.1 1139.5 1270.7 1141.9 C1268.3 1144.2 1265.9 1146.5 1263.4 1148.7 C1261.0 1151.0 1258.5 1153.3 1256.0 1155.5 C1253.5 1157.7 1251.0 1159.9 1248.4 1162.1 C1245.9 1164.3 1243.4 1166.4 1240.8 1168.5 C1238.2 1170.7 1235.6 1172.8 1233.0 1174.9 C1230.4 1177.0 1227.8 1179.0 1225.1 1181.1 C1222.5 1183.1 1219.8 1185.2 1217.1 1187.2 C1214.4 1189.2 1211.7 1191.2 1209.0 1193.2 C1206.3 1195.1 1203.6 1197.1 1200.8 1199.0 C1198.1 1201.0 1195.3 1202.9 1192.6 1204.8 C1189.8 1206.7 1187.0 1208.6 1184.2 1210.4 C1181.4 1212.3 1178.6 1214.2 1175.8 1216.0 C1172.9 1217.8 1170.1 1219.7 1167.3 1221.5 C1164.4 1223.3 1161.6 1225.1 1158.7 1226.9 C1155.8 1228.7 1152.9 1230.4 1150.1 1232.2 C1147.2 1233.9 1144.3 1235.7 1141.4 1237.4 C1138.4 1239.1 1135.5 1240.7 1132.6 1242.4 C1129.6 1244.0 1126.7 1245.7 1123.7 1247.3 C1120.7 1248.8 1117.8 1250.4 1114.8 1251.9 C1111.7 1253.4 1108.7 1254.9 1105.7 1256.3 C1102.7 1257.8 1099.6 1259.2 1096.5 1260.5 C1093.5 1261.8 1090.4 1263.1 1087.2 1264.3 C1084.1 1265.6 1081.0 1266.7 1077.8 1267.8 C1074.7 1268.9 1071.5 1270.0 1068.3 1271.0 C1065.1 1272.0 1061.9 1272.9 1058.6 1273.7 C1055.4 1274.6 1052.1 1275.4 1048.9 1276.1 C1045.6 1276.8 1042.3 1277.5 1039.0 1278.0 C1035.7 1278.6 1032.4 1279.1 1029.1 1279.5 C1025.8 1280.0 1022.4 1280.3 1019.1 1280.6 C1015.8 1280.9 1012.4 1281.1 1009.1 1281.2 C1005.8 1281.4 1002.4 1281.4 999.1 1281.4 C995.8 1281.4 992.4 1281.2 989.1 1281.1 C985.8 1280.9 982.5 1280.6 979.2 1280.2 C975.9 1279.9 972.6 1279.4 969.3 1278.9 C966.0 1278.4 962.7 1277.9 959.4 1277.2 C956.2 1276.6 952.9 1275.9 949.6 1275.2 C946.4 1274.4 943.1 1273.6 939.9 1272.7 C936.6 1271.9 933.4 1271.0 930.2 1270.0 C926.9 1269.1 923.7 1268.1 920.5 1267.1 C917.3 1266.0 914.1 1265.0 910.9 1263.9 C907.7 1262.8 904.5 1261.7 901.3 1260.6 C898.1 1259.4 895.0 1258.3 891.8 1257.1 C888.6 1255.9 885.5 1254.8 882.3 1253.6 C879.2 1252.4 876.0 1251.2 872.9 1249.9 C869.8 1248.7 866.7 1247.5 863.5 1246.2 C860.4 1245.0 857.3 1243.7 854.2 1242.4 C851.1 1241.2 847.9 1239.9 844.8 1238.6 C841.7 1237.3 838.6 1236.0 835.5 1234.7 C832.4 1233.4 829.3 1232.1 826.2 1230.8 C823.2 1229.5 820.1 1228.2 817.0 1226.9 C813.9 1225.6 810.8 1224.3 807.7 1222.9 C804.6 1221.6 801.5 1220.3 798.4 1219.0 C795.3 1217.7 792.3 1216.4 789.2 1215.1 C786.1 1213.8 783.0 1212.5 779.9 1211.2 C776.8 1209.9 773.7 1208.7 770.6 1207.4 C767.5 1206.1 764.4 1204.9 761.3 1203.6 C758.2 1202.4 755.1 1201.1 752.0 1199.9 C748.9 1198.7 745.7 1197.5 742.6 1196.3 C739.5 1195.1 736.4 1193.9 733.2 1192.7 C730.1 1191.5 727.0 1190.4 723.8 1189.3 C720.7 1188.1 717.5 1187.0 714.3 1185.9 C711.2 1184.8 708.0 1183.8 704.8 1182.7 C701.7 1181.7 698.5 1180.6 695.3 1179.6 C692.1 1178.6 688.9 1177.6 685.7 1176.7 C682.5 1175.7 679.3 1174.7 676.1 1173.8 C672.8 1172.9 669.6 1172.0 666.4 1171.1 C663.2 1170.2 659.9 1169.3 656.7 1168.4 C653.4 1167.6 650.2 1166.8 646.9 1165.9 C643.7 1165.1 640.4 1164.3 637.2 1163.5 C633.9 1162.8 630.6 1162.0 627.4 1161.3 C624.1 1160.5 620.8 1159.8 617.5 1159.1 C614.3 1158.4 611.0 1157.7 607.7 1157.0 C604.4 1156.4 601.1 1155.7 597.8 1155.1 C594.5 1154.5 591.2 1153.8 587.9 1153.2 C584.6 1152.6 581.3 1152.1 578.0 1151.5 C574.6 1150.9 571.3 1150.4 568.0 1149.9 C564.7 1149.3 561.4 1148.8 558.1 1148.3 C554.7 1147.8 551.4 1147.3 548.1 1146.9 C544.7 1146.4 541.4 1146.0 538.1 1145.5 C534.7 1145.1 531.4 1144.7 528.1 1144.3 C524.7 1143.9 521.4 1143.5 518.1 1143.2 C514.7 1142.8 511.4 1142.5 508.0 1142.1 C504.7 1141.8 501.4 1141.5 498.0 1141.2 C494.7 1140.9 491.3 1140.6 488.0 1140.3 C484.6 1140.0 481.3 1139.8 477.9 1139.5 C474.6 1139.3 471.3 1139.1 467.9 1138.9 C464.6 1138.6 461.2 1138.4 457.9 1138.3 C454.5 1138.1 451.2 1137.9 447.8 1137.8 C444.5 1137.6 441.2 1137.5 437.8 1137.3 C434.5 1137.2 429.5 1137.1 427.8 1137.0 L427.8 1137.0 C427.9 1136.0 428.2 1132.8 428.3 1130.7 C428.5 1128.6 428.6 1126.5 428.8 1124.4 C428.9 1122.3 429.1 1120.2 429.2 1118.1 C429.4 1116.0 429.5 1113.9 429.6 1111.8 C429.8 1109.7 429.9 1107.6 430.0 1105.5 C430.1 1103.4 430.3 1101.2 430.4 1099.1 C430.5 1097.0 430.7 1094.9 430.8 1092.8 C430.9 1090.7 431.1 1088.6 431.2 1086.5 C431.4 1084.4 431.5 1082.3 431.7 1080.2 C431.8 1078.1 432.0 1076.0 432.2 1073.9 C432.4 1071.8 432.5 1069.7 432.7 1067.6 C432.9 1065.5 433.2 1063.4 433.4 1061.3 C433.6 1059.2 433.9 1057.1 434.1 1055.0 C434.4 1052.9 434.7 1050.8 435.0 1048.7 C435.3 1046.7 435.6 1044.6 435.9 1042.5 C436.3 1040.4 436.6 1038.3 437.0 1036.3 C437.4 1034.2 437.8 1032.1 438.2 1030.1 C438.6 1028.0 439.1 1025.9 439.6 1023.9 C440.1 1021.8 440.6 1019.8 441.1 1017.7 C441.7 1015.6 442.2 1013.6 442.8 1011.6 C443.4 1009.5 444.1 1007.5 444.8 1005.5 C445.4 1003.4 446.2 1001.4 446.9 999.5 C447.7 997.5 448.6 995.6 449.5 993.7 C450.5 991.9 451.5 990.1 452.7 988.4 C453.8 986.7 455.1 985.1 456.5 983.6 C457.9 982.2 459.4 980.8 461.0 979.6 C462.7 978.3 464.5 977.2 466.4 976.3 C468.3 975.3 470.3 974.5 472.4 973.9 C474.5 973.3 477.9 972.7 479.0 972.5 L479.0 972.5 C480.6 972.0 485.5 970.6 488.7 969.7 C492.0 968.8 495.2 968.1 498.5 967.3 C501.8 966.6 505.1 965.9 508.4 965.3 C511.7 964.7 515.0 964.1 518.3 963.6 C521.6 963.0 524.9 962.6 528.2 962.1 C531.6 961.6 534.9 961.2 538.2 960.8 C541.6 960.4 544.9 960.0 548.2 959.6 C551.6 959.2 554.9 958.8 558.2 958.5 C561.6 958.1 564.9 957.7 568.2 957.4 C571.6 957.1 574.9 956.7 578.2 956.4 C581.6 956.1 584.9 955.8 588.3 955.5 C591.6 955.2 595.0 954.9 598.3 954.6 C601.6 954.3 605.0 954.0 608.3 953.7 C611.7 953.5 615.0 953.2 618.4 952.9 C621.7 952.7 625.1 952.4 628.4 952.2 C631.8 951.9 635.1 951.7 638.5 951.4 C641.8 951.2 645.1 950.9 648.5 950.7 C651.8 950.4 655.2 950.2 658.5 950.0 C661.9 949.7 665.2 949.5 668.6 949.3 C671.9 949.0 675.3 948.8 678.6 948.6 C682.0 948.3 685.3 948.1 688.7 947.9 C692.0 947.6 695.4 947.4 698.7 947.1 C702.1 946.9 705.4 946.7 708.8 946.4 C712.1 946.2 715.5 945.9 718.8 945.7 C722.2 945.4 725.5 945.1 728.9 944.9 C732.2 944.6 735.5 944.3 738.9 944.1 C742.2 943.8 745.6 943.5 748.9 943.2 C752.3 942.9 755.6 942.6 758.9 942.3 C762.3 942.0 765.6 941.7 769.0 941.4 C772.3 941.0 775.6 940.7 779.0 940.4 C782.3 940.0 785.6 939.7 789.0 939.3 C792.3 938.9 795.6 938.6 799.0 938.2 C802.3 937.8 805.6 937.4 809.0 937.0 C812.3 936.5 815.6 936.1 818.9 935.7 C822.3 935.3 825.6 934.8 828.9 934.4 C832.2 933.9 835.6 933.5 838.9 933.0 C842.2 932.5 845.5 932.0 848.8 931.6 C852.2 931.1 855.5 930.6 858.8 930.1 C862.1 929.6 865.4 929.1 868.8 928.6 C872.1 928.0 875.4 927.5 878.7 927.0 C882.0 926.5 885.3 925.9 888.6 925.4 C892.0 924.8 895.3 924.3 898.6 923.7 C901.9 923.2 905.2 922.6 908.5 922.1 C911.8 921.5 915.1 920.9 918.5 920.4 C921.8 919.8 925.1 919.2 928.4 918.6 C931.7 918.1 935.0 917.5 938.3 916.9 C941.6 916.3 944.9 915.7 948.2 915.1 C951.5 914.5 954.8 913.9 958.1 913.3 C961.5 912.7 964.8 912.1 968.1 911.5 C971.4 910.9 974.7 910.3 978.0 909.7 C981.3 909.1 984.6 908.5 987.9 907.9 C991.2 907.3 994.5 906.7 997.8 906.1 C1001.1 905.5 1004.4 904.9 1007.7 904.3 C1011.0 903.7 1014.3 903.0 1017.6 902.4 C1021.0 901.8 1024.3 901.2 1027.6 900.6 C1030.9 900.0 1034.2 899.4 1037.5 898.8 C1040.8 898.2 1044.1 897.6 1047.4 897.0 C1050.7 896.5 1054.0 895.9 1057.3 895.3 C1060.6 894.7 1063.9 894.1 1067.2 893.5 C1070.5 892.9 1073.9 892.4 1077.2 891.8 C1080.5 891.2 1083.8 890.7 1087.1 890.1 C1090.4 889.5 1093.7 889.0 1097.0 888.4 C1100.3 887.9 1103.6 887.3 1107.0 886.8 C1110.3 886.2 1113.6 885.7 1116.9 885.2 C1120.2 884.7 1123.5 884.1 1126.8 883.6 C1130.1 883.1 1133.5 882.6 1136.8 882.1 C1140.1 881.6 1143.4 881.1 1146.7 880.6 C1150.0 880.1 1153.4 879.7 1156.7 879.2 C1160.0 878.7 1163.3 878.3 1166.6 877.8 C1169.9 877.4 1173.3 876.9 1176.6 876.4 C1179.9 875.9 1183.2 875.3 1186.4 874.7 C1189.7 874.1 1193.0 873.5 1196.2 872.7 C1199.5 871.9 1202.7 871.1 1205.9 870.2 C1209.1 869.2 1212.3 868.2 1215.5 867.1 C1218.6 866.0 1221.8 864.9 1225.0 863.7 C1228.2 862.6 1231.3 861.4 1234.5 860.2 C1237.7 859.0 1240.9 857.8 1244.0 856.5 C1247.2 855.2 1250.3 853.8 1253.4 852.4 C1256.4 851.0 1259.5 849.5 1262.5 848.0 C1265.4 846.4 1268.3 844.7 1271.2 843.0 C1274.0 841.2 1276.7 839.3 1279.4 837.3 C1282.0 835.4 1284.6 833.3 1287.1 831.1 C1289.6 828.9 1292.0 826.7 1294.4 824.3 C1296.7 822.0 1299.0 819.5 1301.2 817.1 C1303.4 814.6 1305.5 812.0 1307.6 809.4 C1309.7 806.7 1311.7 804.0 1313.7 801.3 C1315.6 798.6 1317.5 795.8 1319.4 792.9 C1321.2 790.1 1323.0 787.2 1324.8 784.3 C1326.5 781.4 1328.2 778.5 1329.9 775.5 C1331.5 772.5 1333.1 769.6 1334.7 766.6 C1336.3 763.6 1337.8 760.6 1339.3 757.5 C1340.8 754.5 1342.3 751.5 1343.7 748.5 C1345.1 745.4 1346.5 742.4 1347.8 739.3 C1349.2 736.2 1350.5 733.1 1351.8 730.1 C1353.1 727.0 1354.4 723.9 1355.7 720.8 C1356.9 717.7 1358.1 714.5 1359.3 711.4 C1360.5 708.3 1361.7 705.2 1362.9 702.0 C1364.0 698.9 1365.2 695.7 1366.3 692.6 C1367.4 689.4 1368.5 686.3 1369.6 683.1 C1370.7 680.0 1371.8 676.8 1372.9 673.6 C1373.9 670.4 1375.0 667.3 1376.0 664.1 C1377.1 660.9 1378.1 657.7 1379.2 654.6 C1380.2 651.4 1381.2 648.2 1382.3 645.0 C1383.3 641.8 1384.3 638.6 1385.4 635.5 C1386.4 632.3 1387.4 629.1 1388.4 625.9 C1389.5 622.7 1390.5 619.5 1391.5 616.3 C1392.5 613.2 1393.6 610.0 1394.6 606.8 C1395.6 603.6 1396.6 600.4 1397.6 597.2 C1398.7 594.0 1399.7 590.8 1400.7 587.6 C1401.7 584.4 1402.7 581.2 1403.7 578.0 C1404.7 574.8 1405.7 571.6 1406.7 568.4 C1407.6 565.2 1408.6 562.0 1409.6 558.8 C1410.6 555.6 1411.5 552.4 1412.5 549.2 C1413.5 545.9 1414.4 542.7 1415.4 539.5 C1416.3 536.3 1417.3 533.1 1418.2 529.8 C1419.1 526.6 1420.1 523.4 1421.0 520.1 C1421.9 516.9 1422.8 513.7 1423.7 510.4 C1424.6 507.2 1425.5 503.9 1426.4 500.7 C1427.3 497.4 1428.1 494.2 1429.0 490.9 C1429.9 487.7 1430.8 484.4 1431.7 481.2 C1432.6 477.9 1433.4 474.7 1434.3 471.4 C1435.3 468.2 1436.2 464.9 1437.1 461.7 C1438.0 458.5 1439.0 455.3 1439.9 452.0 C1440.9 448.8 1441.9 445.6 1442.9 442.4 C1443.9 439.2 1445.0 436.0 1446.0 432.8 C1447.1 429.7 1448.2 426.5 1449.3 423.4 C1450.5 420.2 1451.6 417.1 1452.9 413.9 C1454.1 410.8 1455.3 407.7 1456.6 404.6 C1457.9 401.6 1459.3 398.5 1460.6 395.4 C1462.0 392.4 1463.5 389.4 1465.0 386.4 C1466.5 383.4 1468.0 380.4 1469.6 377.4 C1471.3 374.5 1472.9 371.5 1474.7 368.6 C1476.4 365.7 1478.2 362.9 1480.1 360.0 C1482.0 357.2 1483.9 354.3 1485.9 351.5 C1488.0 348.8 1490.0 346.0 1492.3 343.7 C1494.6 341.3 1496.9 339.1 1499.6 337.7 C1502.2 336.4 1505.1 335.5 1508.1 335.4 C1511.1 335.3 1514.6 336.3 1517.7 337.4 C1520.8 338.5 1524.0 340.3 1526.7 342.2 C1529.5 344.1 1532.1 346.4 1534.4 348.7 C1536.8 351.1 1539.0 353.8 1541.0 356.6 C1543.1 359.4 1544.9 362.3 1546.7 365.3 C1548.5 368.3 1550.2 371.5 1551.8 374.6 C1553.4 377.7 1554.9 380.8 1556.4 383.9 C1557.9 387.0 1559.3 390.0 1560.7 393.1 C1562.1 396.1 1563.5 399.1 1564.9 402.1 C1566.3 405.1 1567.6 408.1 1569.0 411.1 C1570.3 414.1 1571.7 417.1 1573.0 420.2 C1574.4 423.2 1575.7 426.2 1577.1 429.3 C1578.4 432.3 1579.8 435.3 1581.2 438.4 C1582.5 441.4 1583.9 444.5 1585.3 447.6 C1586.6 450.6 1588.0 453.7 1589.4 456.7 C1590.8 459.8 1592.2 462.8 1593.6 465.9 C1595.1 468.9 1596.5 472.0 1597.9 475.0 C1599.4 478.0 1600.9 481.1 1602.3 484.1 C1603.8 487.1 1605.3 490.1 1606.8 493.1 C1608.4 496.2 1609.9 499.1 1611.5 502.1 C1613.0 505.1 1614.6 508.1 1616.2 511.0 C1617.9 514.0 1619.5 516.9 1621.2 519.8 C1622.8 522.8 1624.5 525.7 1626.3 528.5 C1628.0 531.4 1629.8 534.3 1631.6 537.1 C1633.4 539.9 1635.2 542.8 1637.1 545.5 C1638.9 548.3 1640.8 551.1 1642.8 553.8 C1644.7 556.6 1646.7 559.3 1648.8 561.9 C1650.8 564.6 1652.8 567.3 1655.0 569.9 C1657.1 572.5 1659.2 575.1 1661.4 577.6 C1663.6 580.1 1665.9 582.6 1668.2 585.1 C1670.4 587.5 1672.8 589.9 1675.1 592.3 C1677.5 594.7 1679.9 597.0 1682.4 599.2 C1684.9 601.5 1687.4 603.7 1689.9 605.8 C1692.5 608.0 1695.1 610.1 1697.8 612.1 C1700.4 614.1 1703.1 616.1 1705.8 618.0 C1708.6 619.9 1711.4 621.7 1714.2 623.5 C1717.1 625.2 1720.0 626.9 1722.9 628.6 C1725.8 630.2 1728.8 631.8 1731.8 633.3 C1734.8 634.8 1737.8 636.3 1740.9 637.8 C1743.9 639.2 1747.0 640.6 1750.1 641.9 C1753.2 643.3 1756.3 644.6 1759.4 645.9 C1762.5 647.2 1765.6 648.5 1768.8 649.8 C1771.9 651.0 1775.0 652.3 1778.2 653.5 C1781.3 654.7 1784.4 655.9 1787.6 657.1 C1790.7 658.3 1793.9 659.4 1797.0 660.6 C1800.2 661.7 1803.4 662.9 1806.5 664.0 C1809.7 665.1 1812.9 666.2 1816.1 667.2 C1819.2 668.3 1822.4 669.4 1825.6 670.4 C1828.8 671.4 1832.0 672.5 1835.2 673.5 C1838.4 674.5 1841.6 675.5 1844.8 676.5 C1848.0 677.4 1851.2 678.4 1854.4 679.3 C1857.6 680.3 1860.9 681.2 1864.1 682.2 C1867.3 683.1 1870.5 684.0 1873.8 684.9 C1877.0 685.8 1880.2 686.7 1883.5 687.6 C1886.7 688.4 1889.9 689.3 1893.2 690.1 C1896.4 691.0 1899.7 691.8 1902.9 692.7 C1906.2 693.5 1909.4 694.3 1912.7 695.1 C1915.9 695.9 1919.2 696.7 1922.4 697.5 C1925.7 698.3 1929.0 699.1 1932.2 699.8 C1935.5 700.6 1938.8 701.4 1942.1 702.1 C1945.3 702.8 1948.6 703.6 1951.9 704.3 C1955.2 705.0 1958.5 705.7 1961.7 706.4 C1965.0 707.1 1968.3 707.8 1971.6 708.5 C1974.9 709.1 1978.2 709.8 1981.5 710.5 C1984.8 711.1 1988.1 711.7 1991.4 712.4 C1994.7 713.0 1998.0 713.6 2001.3 714.2 C2004.6 714.8 2007.9 715.4 2011.2 716.0 C2014.5 716.6 2017.8 717.1 2021.1 717.7 C2024.5 718.2 2027.8 718.8 2031.1 719.3 C2034.4 719.8 2037.7 720.3 2041.0 720.8 C2044.4 721.3 2047.7 721.8 2051.0 722.3 C2054.3 722.8 2057.7 723.3 2061.0 723.7 C2064.3 724.2 2067.6 724.6 2071.0 725.0 C2074.3 725.4 2077.6 725.9 2081.0 726.3 C2084.3 726.7 2087.6 727.0 2091.0 727.4 C2094.3 727.8 2097.7 728.2 2101.0 728.5 C2104.3 728.9 2107.7 729.2 2111.0 729.5 C2114.4 729.8 2117.7 730.1 2121.0 730.4 C2124.4 730.7 2127.7 731.0 2131.1 731.3 C2134.4 731.5 2137.8 731.8 2141.1 732.0 C2144.5 732.3 2147.8 732.5 2151.2 732.7 C2154.5 732.9 2159.5 733.2 2161.2 733.3" stroke="#0568AB"/>
<path d="M2161.0 838.0 C2159.3 838.0 2154.2 837.9 2150.9 837.9 C2147.5 837.9 2144.1 838.0 2140.7 838.0 C2137.4 838.1 2134.0 838.2 2130.6 838.3 C2127.3 838.4 2123.9 838.5 2120.6 838.7 C2117.2 838.8 2113.8 839.0 2110.5 839.2 C2107.1 839.4 2103.8 839.6 2100.4 839.8 C2097.1 840.1 2093.7 840.3 2090.4 840.6 C2087.0 840.8 2083.7 841.1 2080.3 841.4 C2077.0 841.6 2073.6 841.9 2070.3 842.2 C2066.9 842.5 2063.6 842.8 2060.3 843.1 C2056.9 843.4 2053.6 843.8 2050.2 844.1 C2046.9 844.4 2043.5 844.7 2040.2 845.1 C2036.9 845.4 2033.5 845.7 2030.2 846.0 C2026.8 846.4 2023.5 846.7 2020.1 847.0 C2016.8 847.3 2013.5 847.6 2010.1 848.0 C2006.8 848.3 2003.4 848.6 2000.1 848.9 C1996.7 849.2 1993.4 849.5 1990.1 849.7 C1986.7 850.0 1983.4 850.3 1980.0 850.5 C1976.7 850.8 1973.3 851.0 1970.0 851.3 C1966.6 851.5 1963.3 851.7 1959.9 851.9 C1956.5 852.1 1953.2 852.3 1949.8 852.5 C1946.5 852.7 1943.1 852.9 1939.8 853.0 C1936.4 853.2 1933.0 853.3 1929.7 853.5 C1926.3 853.6 1923.0 853.8 1919.6 853.9 C1916.2 854.0 1912.9 854.2 1909.5 854.3 C1906.2 854.4 1902.8 854.5 1899.4 854.6 C1896.1 854.7 1892.7 854.8 1889.4 854.9 C1886.0 855.0 1882.6 855.1 1879.3 855.2 C1875.9 855.3 1872.5 855.4 1869.2 855.5 C1865.8 855.6 1862.4 855.7 1859.1 855.8 C1855.7 855.8 1852.4 855.9 1849.0 856.0 C1845.6 856.1 1842.3 856.2 1838.9 856.3 C1835.5 856.4 1832.2 856.4 1828.8 856.5 C1825.5 856.6 1822.1 856.7 1818.7 856.8 C1815.4 856.9 1812.0 857.0 1808.7 857.1 C1805.3 857.2 1802.0 857.3 1798.6 857.4 C1795.2 857.5 1791.9 857.7 1788.5 857.8 C1785.2 857.9 1781.8 858.0 1778.5 858.2 C1775.1 858.3 1771.8 858.4 1768.4 858.6 C1765.1 858.7 1761.7 858.8 1758.4 859.0 C1755.0 859.1 1751.6 859.2 1748.3 859.3 C1744.9 859.4 1741.6 859.6 1738.2 859.7 C1734.9 859.8 1731.5 859.8 1728.1 859.9 C1724.8 860.0 1721.4 860.1 1718.0 860.2 C1714.7 860.2 1711.3 860.3 1707.9 860.4 C1704.6 860.4 1701.2 860.5 1697.8 860.5 C1694.5 860.6 1691.1 860.7 1687.7 860.7 C1684.4 860.8 1681.0 860.9 1677.6 860.9 C1674.3 861.0 1670.9 861.1 1667.5 861.2 C1664.2 861.2 1660.8 861.3 1657.4 861.4 C1654.1 861.5 1650.7 861.6 1647.3 861.8 C1644.0 861.9 1640.6 862.0 1637.3 862.2 C1633.9 862.3 1630.5 862.5 1627.2 862.7 C1623.8 862.9 1620.5 863.1 1617.1 863.3 C1613.8 863.5 1610.4 863.8 1607.1 864.0 C1603.7 864.3 1600.4 864.6 1597.0 864.9 C1593.7 865.2 1590.3 865.6 1587.0 865.9 C1583.7 866.3 1580.3 866.7 1577.0 867.1 C1573.7 867.5 1570.4 868.0 1567.0 868.5 C1563.7 869.0 1560.4 869.5 1557.1 870.1 C1553.8 870.6 1550.4 871.2 1547.1 871.8 C1543.8 872.5 1540.5 873.1 1537.2 873.8 C1533.9 874.5 1530.6 875.3 1527.4 876.1 C1524.1 876.9 1520.8 877.7 1517.5 878.6 C1514.3 879.5 1511.0 880.4 1507.8 881.4 C1504.6 882.3 1501.3 883.4 1498.1 884.4 C1494.9 885.5 1491.8 886.6 1488.6 887.8 C1485.5 889.0 1482.3 890.2 1479.3 891.5 C1476.2 892.8 1473.1 894.2 1470.1 895.6 C1467.0 897.0 1464.0 898.5 1461.1 900.1 C1458.1 901.6 1455.2 903.2 1452.3 904.9 C1449.4 906.6 1446.6 908.3 1443.8 910.1 C1441.0 911.9 1438.3 913.8 1435.6 915.8 C1432.9 917.7 1430.3 919.8 1427.7 921.9 C1425.1 924.0 1422.6 926.1 1420.1 928.4 C1417.6 930.6 1415.1 932.9 1412.7 935.2 C1410.3 937.6 1408.0 940.0 1405.6 942.4 C1403.3 944.9 1401.0 947.4 1398.7 949.9 C1396.5 952.4 1394.2 955.0 1392.0 957.6 C1389.8 960.1 1387.6 962.8 1385.5 965.4 C1383.3 968.0 1381.2 970.7 1379.1 973.3 C1376.9 976.0 1374.8 978.6 1372.7 981.3 C1370.6 984.0 1368.6 986.6 1366.5 989.3 C1364.4 992.0 1362.3 994.7 1360.2 997.3 C1358.2 1000.0 1356.1 1002.7 1354.0 1005.3 C1351.9 1008.0 1349.9 1010.6 1347.8 1013.3 C1345.7 1015.9 1343.6 1018.5 1341.4 1021.1 C1339.3 1023.7 1337.2 1026.3 1335.0 1028.9 C1332.9 1031.5 1330.7 1034.0 1328.5 1036.6 C1326.3 1039.1 1324.1 1041.6 1321.8 1044.0 C1319.6 1046.5 1317.3 1049.0 1315.0 1051.4 C1312.6 1053.8 1310.3 1056.1 1307.9 1058.5 C1305.5 1060.8 1303.0 1063.1 1300.6 1065.4 C1298.1 1067.6 1295.6 1069.9 1293.1 1072.1 C1290.5 1074.2 1288.0 1076.4 1285.4 1078.5 C1282.7 1080.6 1280.1 1082.7 1277.4 1084.7 C1274.8 1086.7 1272.1 1088.7 1269.3 1090.6 C1266.6 1092.5 1263.8 1094.4 1261.0 1096.2 C1258.2 1098.1 1255.4 1099.9 1252.5 1101.6 C1249.7 1103.3 1246.8 1105.0 1243.8 1106.7 C1240.9 1108.3 1238.0 1109.9 1235.0 1111.4 C1232.0 1113.0 1229.0 1114.4 1225.9 1115.9 C1222.9 1117.3 1219.8 1118.7 1216.7 1120.0 C1213.6 1121.3 1210.5 1122.6 1207.4 1123.8 C1204.3 1125.1 1201.1 1126.3 1197.9 1127.4 C1194.7 1128.5 1191.5 1129.6 1188.3 1130.7 C1185.1 1131.7 1181.9 1132.7 1178.6 1133.6 C1175.4 1134.6 1172.1 1135.5 1168.8 1136.4 C1165.6 1137.2 1162.3 1138.0 1159.0 1138.8 C1155.7 1139.6 1152.4 1140.3 1149.1 1141.0 C1145.7 1141.7 1142.4 1142.4 1139.1 1142.9 C1135.8 1143.5 1132.4 1144.1 1129.1 1144.6 C1125.7 1145.1 1122.4 1145.5 1119.1 1145.9 C1115.7 1146.3 1112.4 1146.6 1109.0 1146.8 C1105.7 1147.1 1102.3 1147.3 1099.0 1147.4 C1095.6 1147.6 1092.3 1147.6 1088.9 1147.6 C1085.6 1147.6 1082.3 1147.5 1078.9 1147.4 C1075.6 1147.3 1072.3 1147.0 1069.0 1146.7 C1065.6 1146.4 1062.3 1146.1 1059.0 1145.6 C1055.7 1145.2 1052.4 1144.7 1049.1 1144.1 C1045.8 1143.6 1042.6 1142.9 1039.3 1142.3 C1036.0 1141.6 1032.7 1140.9 1029.5 1140.1 C1026.2 1139.4 1022.9 1138.6 1019.7 1137.8 C1016.4 1136.9 1013.1 1136.1 1009.9 1135.2 C1006.6 1134.3 1003.4 1133.4 1000.1 1132.4 C996.9 1131.5 993.6 1130.6 990.4 1129.6 C987.2 1128.6 983.9 1127.7 980.7 1126.7 C977.5 1125.7 974.2 1124.8 971.0 1123.8 C967.8 1122.8 964.5 1121.8 961.3 1120.8 C958.1 1119.9 954.8 1118.9 951.6 1117.9 C948.4 1116.9 945.2 1115.9 941.9 1114.9 C938.7 1113.9 935.5 1112.9 932.3 1111.9 C929.1 1110.9 925.8 1109.9 922.6 1108.9 C919.4 1107.9 916.2 1106.9 913.0 1105.9 C909.8 1104.9 906.5 1103.9 903.3 1102.9 C900.1 1101.9 896.9 1100.9 893.7 1099.9 C890.5 1099.0 887.2 1098.0 884.0 1097.0 C880.8 1096.0 877.6 1095.0 874.4 1094.0 C871.2 1093.0 867.9 1092.1 864.7 1091.1 C861.5 1090.1 858.3 1089.2 855.1 1088.2 C851.9 1087.2 848.6 1086.3 845.4 1085.3 C842.2 1084.4 839.0 1083.4 835.7 1082.5 C832.5 1081.6 829.3 1080.6 826.1 1079.7 C822.8 1078.8 819.6 1077.9 816.4 1077.0 C813.1 1076.1 809.9 1075.2 806.7 1074.3 C803.4 1073.4 800.2 1072.5 797.0 1071.7 C793.7 1070.8 790.5 1070.0 787.2 1069.1 C784.0 1068.3 780.8 1067.4 777.5 1066.6 C774.3 1065.8 771.0 1065.0 767.7 1064.2 C764.5 1063.4 761.2 1062.6 758.0 1061.8 C754.7 1061.1 751.4 1060.3 748.2 1059.6 C744.9 1058.8 741.6 1058.1 738.3 1057.4 C735.1 1056.7 731.8 1056.0 728.5 1055.3 C725.2 1054.6 721.9 1053.9 718.6 1053.3 C715.4 1052.7 712.1 1052.0 708.8 1051.4 C705.5 1050.8 702.1 1050.2 698.8 1049.6 C695.5 1049.0 692.2 1048.4 688.9 1047.9 C685.6 1047.3 682.3 1046.8 679.0 1046.2 C675.6 1045.7 672.3 1045.2 669.0 1044.7 C665.7 1044.2 662.3 1043.7 659.0 1043.2 C655.7 1042.8 652.3 1042.3 649.0 1041.9 C645.7 1041.4 642.3 1041.0 639.0 1040.6 C635.6 1040.1 632.3 1039.7 628.9 1039.3 C625.6 1038.9 622.2 1038.5 618.9 1038.2 C615.5 1037.8 612.2 1037.4 608.8 1037.1 C605.5 1036.7 602.1 1036.4 598.8 1036.1 C595.4 1035.7 592.1 1035.4 588.7 1035.1 C585.4 1034.8 582.0 1034.5 578.6 1034.2 C575.3 1033.9 571.9 1033.7 568.5 1033.4 C565.2 1033.1 561.8 1032.9 558.5 1032.6 C555.1 1032.4 551.7 1032.1 548.4 1031.9 C545.0 1031.7 541.6 1031.4 538.3 1031.2 C534.9 1031.0 531.6 1030.8 528.2 1030.6 C524.8 1030.4 521.5 1030.2 518.1 1030.0 C514.7 1029.9 511.4 1029.7 508.0 1029.5 C504.7 1029.3 501.3 1029.2 497.9 1029.0 C494.6 1028.9 491.2 1028.7 487.9 1028.6 C484.5 1028.4 481.1 1028.3 477.8 1028.2 C474.4 1028.0 471.1 1027.9 467.7 1027.8 C464.4 1027.7 461.0 1027.6 457.7 1027.5 C454.3 1027.4 451.0 1027.2 447.6 1027.1 C444.3 1027.0 441.0 1027.0 437.6 1026.9 C434.3 1026.8 429.3 1026.6 427.6 1026.6 L427.6 1026.6 C427.7 1026.1 428.0 1024.7 428.2 1023.7 C428.4 1022.7 428.6 1021.8 428.8 1020.8 C428.9 1019.8 429.1 1018.8 429.2 1017.8 C429.3 1016.7 429.4 1015.7 429.6 1014.7 C429.7 1013.7 429.8 1012.7 429.9 1011.6 C430.0 1010.6 430.1 1009.6 430.2 1008.5 C430.3 1007.5 430.3 1006.4 430.4 1005.4 C430.5 1004.4 430.6 1003.3 430.7 1002.3 C430.8 1001.2 430.9 1000.2 431.0 999.2 C431.1 998.1 431.2 997.1 431.3 996.0 C431.5 995.0 431.6 994.0 431.7 993.0 C431.9 991.9 432.0 990.9 432.2 989.9 C432.4 988.9 432.6 987.9 432.8 986.9 C433.0 985.9 433.2 984.9 433.5 983.9 C433.7 982.9 434.0 981.9 434.3 981.0 C434.6 980.0 434.9 979.1 435.3 978.1 C435.6 977.2 436.0 976.2 436.4 975.3 C436.9 974.4 437.3 973.5 437.8 972.6 C438.3 971.8 438.8 970.9 439.3 970.0 C439.9 969.2 440.5 968.4 441.1 967.6 C441.7 966.8 442.4 966.1 443.1 965.3 C443.8 964.6 444.6 964.0 445.4 963.4 C446.2 962.7 447.0 962.2 447.9 961.7 C448.8 961.2 449.7 960.7 450.7 960.4 C451.7 960.0 452.7 959.7 453.7 959.5 C454.8 959.2 455.9 959.1 457.0 959.0 C458.1 958.8 459.3 958.7 460.3 958.6 C461.4 958.5 462.4 958.4 463.4 958.2 C464.3 958.1 465.6 957.7 466.0 957.6 L466.0 957.6 C467.7 957.3 472.7 956.5 476.0 956.0 C479.3 955.4 482.6 955.0 486.0 954.5 C489.3 954.0 492.6 953.6 496.0 953.2 C499.3 952.7 502.6 952.3 506.0 952.0 C509.3 951.6 512.7 951.2 516.0 950.9 C519.4 950.5 522.7 950.2 526.0 949.9 C529.4 949.6 532.7 949.3 536.1 949.1 C539.4 948.8 542.8 948.5 546.1 948.3 C549.5 948.0 552.8 947.8 556.2 947.6 C559.5 947.4 562.9 947.2 566.2 947.0 C569.6 946.8 572.9 946.6 576.3 946.4 C579.6 946.2 583.0 946.1 586.3 945.9 C589.7 945.7 593.1 945.6 596.4 945.4 C599.8 945.3 603.1 945.1 606.5 945.0 C609.8 944.8 613.2 944.7 616.6 944.5 C619.9 944.4 623.3 944.2 626.6 944.1 C630.0 944.0 633.3 943.8 636.7 943.7 C640.1 943.5 643.4 943.4 646.8 943.2 C650.1 943.1 653.5 943.0 656.8 942.8 C660.2 942.7 663.6 942.5 666.9 942.4 C670.3 942.3 673.6 942.1 677.0 942.0 C680.4 941.8 683.7 941.7 687.1 941.5 C690.4 941.4 693.8 941.3 697.1 941.1 C700.5 941.0 703.9 940.8 707.2 940.7 C710.6 940.5 713.9 940.4 717.3 940.2 C720.6 940.1 724.0 939.9 727.4 939.8 C730.7 939.6 734.1 939.5 737.4 939.3 C740.8 939.1 744.2 939.0 747.5 938.8 C750.9 938.7 754.2 938.5 757.6 938.3 C760.9 938.2 764.3 938.0 767.6 937.8 C771.0 937.7 774.4 937.5 777.7 937.3 C781.1 937.1 784.4 936.9 787.8 936.8 C791.1 936.6 794.5 936.4 797.9 936.2 C801.2 936.0 804.6 935.8 807.9 935.6 C811.3 935.4 814.6 935.2 818.0 935.0 C821.3 934.8 824.7 934.6 828.0 934.4 C831.4 934.2 834.7 934.0 838.1 933.8 C841.5 933.6 844.8 933.3 848.2 933.1 C851.5 932.9 854.9 932.7 858.2 932.4 C861.6 932.2 864.9 931.9 868.3 931.7 C871.6 931.4 875.0 931.2 878.3 930.9 C881.7 930.7 885.0 930.4 888.4 930.2 C891.7 929.9 895.1 929.6 898.4 929.3 C901.8 929.1 905.1 928.8 908.5 928.5 C911.8 928.2 915.1 927.9 918.5 927.6 C921.8 927.3 925.2 927.0 928.5 926.7 C931.9 926.4 935.2 926.1 938.6 925.7 C941.9 925.4 945.2 925.1 948.6 924.8 C951.9 924.4 955.3 924.1 958.6 923.7 C962.0 923.4 965.3 923.0 968.6 922.6 C972.0 922.3 975.3 921.9 978.7 921.5 C982.0 921.1 985.3 920.8 988.7 920.4 C992.0 920.0 995.3 919.6 998.7 919.2 C1002.0 918.7 1005.3 918.3 1008.7 917.9 C1012.0 917.5 1015.4 917.0 1018.7 916.6 C1022.0 916.2 1025.3 915.7 1028.7 915.3 C1032.0 914.8 1035.3 914.3 1038.7 913.9 C1042.0 913.4 1045.3 913.0 1048.7 912.5 C1052.0 912.0 1055.3 911.5 1058.7 911.1 C1062.0 910.6 1065.3 910.1 1068.6 909.6 C1072.0 909.1 1075.3 908.6 1078.6 908.2 C1082.0 907.7 1085.3 907.2 1088.6 906.7 C1091.9 906.2 1095.3 905.7 1098.6 905.2 C1101.9 904.8 1105.2 904.3 1108.6 903.8 C1111.9 903.3 1115.2 902.8 1118.5 902.3 C1121.9 901.9 1125.2 901.4 1128.5 900.9 C1131.8 900.4 1135.2 900.0 1138.5 899.5 C1141.8 899.0 1145.1 898.6 1148.5 898.1 C1151.8 897.7 1155.1 897.2 1158.4 896.8 C1161.8 896.3 1165.1 895.9 1168.4 895.5 C1171.8 895.0 1175.1 894.6 1178.4 894.2 C1181.7 893.8 1185.1 893.4 1188.4 892.9 C1191.7 892.5 1195.0 892.1 1198.3 891.6 C1201.6 891.1 1204.9 890.6 1208.2 889.9 C1211.5 889.3 1214.7 888.6 1218.0 887.7 C1221.2 886.9 1224.4 886.0 1227.6 884.9 C1230.7 883.8 1233.9 882.5 1237.0 881.2 C1240.1 879.8 1243.2 878.4 1246.2 876.8 C1249.3 875.2 1252.3 873.6 1255.2 871.9 C1258.2 870.1 1261.1 868.3 1264.0 866.5 C1266.9 864.7 1269.7 862.8 1272.5 860.9 C1275.2 859.0 1278.0 857.1 1280.6 855.0 C1283.3 853.0 1285.8 850.9 1288.2 848.7 C1290.6 846.5 1292.9 844.1 1295.0 841.6 C1297.2 839.1 1299.1 836.4 1300.9 833.6 C1302.7 830.8 1304.4 827.8 1306.0 824.8 C1307.6 821.8 1309.1 818.7 1310.6 815.7 C1312.1 812.6 1313.5 809.5 1315.0 806.5 C1316.4 803.4 1317.8 800.3 1319.2 797.3 C1320.7 794.2 1322.1 791.1 1323.5 788.1 C1324.9 785.1 1326.4 782.0 1327.9 779.0 C1329.3 776.0 1330.9 773.0 1332.4 770.1 C1334.0 767.1 1335.6 764.2 1337.2 761.2 C1338.9 758.3 1340.6 755.4 1342.3 752.5 C1344.0 749.6 1345.7 746.7 1347.4 743.8 C1349.0 740.9 1350.7 738.0 1352.4 735.0 C1354.0 732.1 1355.6 729.2 1357.1 726.2 C1358.7 723.2 1360.2 720.2 1361.6 717.1 C1363.0 714.1 1364.4 711.0 1365.7 708.0 C1367.0 704.9 1368.3 701.8 1369.6 698.6 C1370.8 695.5 1372.0 692.4 1373.2 689.2 C1374.3 686.1 1375.5 682.9 1376.6 679.7 C1377.7 676.5 1378.7 673.3 1379.8 670.2 C1380.9 667.0 1381.9 663.8 1382.9 660.6 C1383.9 657.4 1384.9 654.2 1385.9 651.0 C1387.0 647.8 1388.0 644.6 1389.0 641.4 C1390.0 638.2 1391.0 635.1 1392.1 631.9 C1393.2 628.7 1394.3 625.5 1395.4 622.3 C1396.5 619.2 1397.7 616.0 1398.8 612.8 C1400.0 609.7 1401.2 606.5 1402.4 603.4 C1403.6 600.2 1404.8 597.1 1406.0 593.9 C1407.2 590.8 1408.4 587.6 1409.6 584.5 C1410.8 581.4 1411.9 578.2 1413.1 575.1 C1414.3 572.0 1415.4 568.9 1416.6 565.8 C1417.8 562.6 1419.0 559.5 1420.1 556.4 C1421.3 553.3 1422.5 550.2 1423.8 547.1 C1425.0 544.0 1426.2 540.9 1427.5 537.8 C1428.8 534.7 1430.1 531.6 1431.4 528.5 C1432.8 525.4 1434.2 522.4 1435.6 519.3 C1437.1 516.2 1438.5 513.1 1440.1 510.0 C1441.7 507.0 1443.3 503.9 1445.0 500.9 C1446.7 497.9 1448.5 494.7 1450.4 491.9 C1452.3 489.0 1454.3 486.0 1456.6 483.6 C1458.9 481.3 1461.3 479.1 1464.0 477.6 C1466.7 476.2 1469.7 475.3 1472.7 475.0 C1475.7 474.7 1478.9 475.2 1481.9 476.0 C1485.0 476.8 1488.0 478.3 1490.8 480.0 C1493.6 481.6 1496.3 483.8 1498.7 486.0 C1501.2 488.3 1503.5 490.9 1505.7 493.6 C1507.9 496.3 1510.0 499.3 1512.0 502.2 C1514.0 505.2 1515.9 508.3 1517.7 511.3 C1519.5 514.3 1521.3 517.3 1523.0 520.2 C1524.7 523.2 1526.3 526.2 1527.9 529.1 C1529.5 532.1 1531.1 535.0 1532.6 538.0 C1534.2 540.9 1535.7 543.8 1537.2 546.7 C1538.8 549.6 1540.3 552.5 1541.8 555.4 C1543.3 558.3 1544.9 561.2 1546.4 564.1 C1548.0 567.0 1549.6 569.9 1551.2 572.8 C1552.9 575.7 1554.5 578.6 1556.2 581.5 C1557.9 584.4 1559.7 587.3 1561.5 590.1 C1563.2 593.0 1565.0 595.8 1566.9 598.7 C1568.7 601.5 1570.6 604.3 1572.5 607.1 C1574.5 609.9 1576.4 612.7 1578.4 615.5 C1580.4 618.2 1582.4 621.0 1584.5 623.6 C1586.6 626.3 1588.7 629.0 1590.9 631.6 C1593.0 634.3 1595.2 636.8 1597.5 639.4 C1599.7 641.9 1602.0 644.4 1604.3 646.9 C1606.6 649.4 1609.0 651.8 1611.4 654.1 C1613.8 656.5 1616.2 658.8 1618.7 661.1 C1621.2 663.3 1623.7 665.5 1626.3 667.6 C1628.9 669.8 1631.5 671.8 1634.2 673.9 C1636.8 675.9 1639.5 677.8 1642.3 679.7 C1645.0 681.6 1647.8 683.4 1650.6 685.2 C1653.4 687.0 1656.3 688.7 1659.2 690.4 C1662.1 692.1 1665.0 693.7 1667.9 695.3 C1670.9 696.9 1673.8 698.4 1676.8 699.9 C1679.9 701.4 1682.9 702.8 1685.9 704.2 C1689.0 705.6 1692.1 707.0 1695.2 708.3 C1698.3 709.6 1701.4 710.9 1704.5 712.2 C1707.6 713.4 1710.8 714.6 1713.9 715.8 C1717.1 717.0 1720.3 718.1 1723.5 719.2 C1726.7 720.4 1729.9 721.5 1733.1 722.5 C1736.3 723.6 1739.5 724.6 1742.7 725.6 C1745.9 726.7 1749.1 727.6 1752.4 728.6 C1755.6 729.6 1758.8 730.5 1762.1 731.4 C1765.3 732.4 1768.5 733.3 1771.8 734.2 C1775.0 735.0 1778.3 735.9 1781.5 736.7 C1784.8 737.6 1788.1 738.4 1791.3 739.2 C1794.6 740.0 1797.9 740.8 1801.1 741.5 C1804.4 742.3 1807.7 743.0 1811.0 743.7 C1814.2 744.5 1817.5 745.2 1820.8 745.9 C1824.1 746.5 1827.4 747.2 1830.7 747.9 C1834.0 748.5 1837.3 749.2 1840.6 749.8 C1843.9 750.4 1847.2 751.0 1850.5 751.6 C1853.8 752.2 1857.1 752.8 1860.4 753.3 C1863.7 753.9 1867.0 754.4 1870.3 755.0 C1873.6 755.5 1877.0 756.0 1880.3 756.5 C1883.6 757.1 1886.9 757.6 1890.2 758.0 C1893.6 758.5 1896.9 759.0 1900.2 759.5 C1903.5 759.9 1906.9 760.4 1910.2 760.8 C1913.5 761.2 1916.8 761.7 1920.2 762.1 C1923.5 762.5 1926.8 762.9 1930.2 763.3 C1933.5 763.7 1936.8 764.1 1940.2 764.5 C1943.5 764.8 1946.9 765.2 1950.2 765.6 C1953.5 765.9 1956.9 766.3 1960.2 766.6 C1963.6 767.0 1966.9 767.3 1970.3 767.7 C1973.6 768.0 1977.0 768.3 1980.3 768.6 C1983.7 768.9 1987.0 769.3 1990.3 769.6 C1993.7 769.9 1997.0 770.2 2000.4 770.5 C2003.7 770.8 2007.1 771.1 2010.4 771.3 C2013.8 771.6 2017.2 771.9 2020.5 772.2 C2023.9 772.5 2027.2 772.7 2030.6 773.0 C2033.9 773.3 2037.3 773.5 2040.6 773.8 C2044.0 774.1 2047.3 774.3 2050.7 774.6 C2054.0 774.9 2057.4 775.1 2060.7 775.4 C2064.1 775.6 2067.5 775.9 2070.8 776.2 C2074.2 776.4 2077.5 776.7 2080.9 776.9 C2084.2 777.2 2087.6 777.5 2090.9 777.7 C2094.3 778.0 2097.6 778.2 2101.0 778.5 C2104.3 778.8 2107.7 779.0 2111.0 779.3 C2114.4 779.5 2117.7 779.8 2121.1 780.1 C2124.4 780.4 2127.8 780.6 2131.1 780.9 C2134.5 781.2 2137.8 781.5 2141.1 781.7 C2144.5 782.0 2147.8 782.3 2151.2 782.6 C2154.5 782.9 2159.5 783.4 2161.2 783.5" stroke="#4EBAFE"/>
<path d="M2161.0 824.6 C2159.0 824.6 2152.8 824.6 2149.0 824.6 C2145.2 824.6 2140.8 824.4 2138.0 824.8 C2135.2 825.2 2134.8 825.9 2132.0 826.9 C2129.2 827.9 2124.9 829.9 2121.4 831.0 C2117.9 832.1 2112.7 833.2 2111.0 833.7 L2073.8 840.9 C2072.1 841.0 2067.1 841.3 2063.7 841.6 C2060.4 841.8 2057.0 842.0 2053.7 842.2 C2050.3 842.5 2047.0 842.7 2043.6 842.9 C2040.3 843.1 2036.9 843.4 2033.6 843.6 C2030.2 843.8 2026.9 844.0 2023.5 844.2 C2020.2 844.5 2016.8 844.7 2013.4 844.9 C2010.1 845.1 2006.7 845.3 2003.4 845.5 C2000.0 845.8 1996.7 846.0 1993.3 846.2 C1990.0 846.4 1986.6 846.6 1983.3 846.8 C1979.9 847.0 1976.6 847.2 1973.2 847.4 C1969.9 847.6 1966.5 847.8 1963.2 848.0 C1959.8 848.2 1956.5 848.4 1953.1 848.6 C1949.7 848.8 1946.4 849.0 1943.0 849.2 C1939.7 849.4 1936.3 849.6 1933.0 849.8 C1929.6 850.0 1926.3 850.1 1922.9 850.3 C1919.6 850.5 1916.2 850.7 1912.9 850.8 C1909.5 851.0 1906.1 851.2 1902.8 851.4 C1899.4 851.5 1896.1 851.7 1892.7 851.8 C1889.4 852.0 1886.0 852.1 1882.7 852.3 C1879.3 852.4 1876.0 852.6 1872.6 852.7 C1869.2 852.9 1865.9 853.0 1862.5 853.1 C1859.2 853.3 1855.8 853.4 1852.5 853.5 C1849.1 853.6 1845.7 853.8 1842.4 853.9 C1839.0 854.0 1835.7 854.1 1832.3 854.2 C1829.0 854.3 1825.6 854.4 1822.2 854.5 C1818.9 854.6 1815.5 854.7 1812.2 854.7 C1808.8 854.8 1805.5 854.9 1802.1 855.0 C1798.7 855.0 1795.4 855.1 1792.0 855.1 C1788.7 855.2 1785.3 855.3 1781.9 855.3 C1778.6 855.3 1775.2 855.4 1771.9 855.4 C1768.5 855.4 1765.1 855.5 1761.8 855.5 C1758.4 855.5 1755.1 855.5 1751.7 855.5 C1748.3 855.5 1745.0 855.5 1741.6 855.5 C1738.2 855.5 1734.9 855.5 1731.5 855.4 C1728.1 855.4 1724.8 855.4 1721.4 855.3 C1718.1 855.3 1714.7 855.3 1711.3 855.2 C1708.0 855.2 1704.6 855.1 1701.2 855.1 C1697.9 855.0 1694.5 855.0 1691.1 855.0 C1687.8 854.9 1684.4 854.9 1681.0 854.8 C1677.7 854.8 1674.3 854.8 1671.0 854.7 C1667.6 854.7 1664.2 854.7 1660.9 854.6 C1657.5 854.6 1654.1 854.6 1650.8 854.6 C1647.4 854.6 1644.1 854.6 1640.7 854.6 C1637.3 854.7 1634.0 854.7 1630.6 854.7 C1627.2 854.8 1623.9 854.8 1620.5 854.9 C1617.2 854.9 1613.8 855.0 1610.5 855.1 C1607.1 855.2 1603.7 855.3 1600.4 855.5 C1597.0 855.6 1593.7 855.7 1590.3 855.9 C1587.0 856.1 1583.6 856.3 1580.3 856.5 C1576.9 856.7 1573.6 856.9 1570.2 857.2 C1566.9 857.4 1563.5 857.7 1560.2 858.0 C1556.8 858.3 1553.5 858.6 1550.2 859.0 C1546.8 859.3 1543.5 859.7 1540.1 860.1 C1536.8 860.5 1533.5 861.0 1530.1 861.5 C1526.8 861.9 1523.4 862.4 1520.1 863.0 C1516.8 863.5 1513.4 864.1 1510.1 864.7 C1506.8 865.3 1503.5 865.9 1500.2 866.6 C1496.9 867.3 1493.6 868.0 1490.3 868.8 C1487.0 869.6 1483.8 870.5 1480.6 871.4 C1477.4 872.3 1474.2 873.3 1471.0 874.4 C1467.8 875.4 1464.7 876.5 1461.6 877.8 C1458.5 879.0 1455.5 880.3 1452.5 881.7 C1449.5 883.0 1446.5 884.5 1443.6 886.1 C1440.7 887.7 1437.9 889.3 1435.1 891.1 C1432.3 892.9 1429.6 894.8 1426.9 896.8 C1424.3 898.8 1421.7 900.9 1419.1 903.1 C1416.6 905.3 1414.1 907.5 1411.7 909.9 C1409.3 912.2 1406.9 914.6 1404.6 917.1 C1402.2 919.5 1400.0 922.0 1397.7 924.6 C1395.5 927.1 1393.3 929.7 1391.2 932.3 C1389.0 934.9 1386.9 937.6 1384.8 940.2 C1382.8 942.9 1380.7 945.6 1378.7 948.3 C1376.7 951.1 1374.7 953.8 1372.7 956.6 C1370.7 959.3 1368.8 962.1 1366.9 964.9 C1364.9 967.7 1363.0 970.5 1361.1 973.4 C1359.1 976.2 1357.2 979.0 1355.3 981.9 C1353.3 984.7 1351.4 987.5 1349.5 990.4 C1347.5 993.2 1345.6 996.0 1343.6 998.8 C1341.7 1001.6 1339.7 1004.4 1337.7 1007.1 C1335.7 1009.8 1333.6 1012.6 1331.6 1015.2 C1329.5 1017.9 1327.4 1020.5 1325.2 1023.1 C1323.1 1025.7 1320.9 1028.3 1318.7 1030.7 C1316.5 1033.2 1314.2 1035.6 1311.9 1038.0 C1309.6 1040.3 1307.2 1042.6 1304.7 1044.8 C1302.3 1047.0 1299.8 1049.2 1297.2 1051.2 C1294.6 1053.3 1292.0 1055.2 1289.3 1057.1 C1286.6 1058.9 1283.8 1060.7 1280.9 1062.4 C1278.1 1064.0 1275.1 1065.6 1272.1 1067.1 C1269.1 1068.5 1266.1 1069.9 1263.0 1071.1 C1259.9 1072.3 1256.7 1073.5 1253.5 1074.5 C1250.4 1075.5 1247.1 1076.4 1243.9 1077.1 C1240.6 1077.9 1237.3 1078.5 1234.0 1079.1 C1230.7 1079.6 1227.4 1080.0 1224.1 1080.3 C1220.7 1080.6 1217.4 1080.7 1214.0 1080.8 C1210.7 1080.9 1207.3 1080.9 1203.9 1080.8 C1200.5 1080.7 1197.1 1080.5 1193.8 1080.2 C1190.4 1079.9 1187.0 1079.6 1183.6 1079.2 C1180.2 1078.8 1176.8 1078.3 1173.5 1077.8 C1170.1 1077.3 1166.7 1076.7 1163.4 1076.2 C1160.0 1075.6 1156.7 1074.9 1153.4 1074.3 C1150.0 1073.6 1146.7 1072.9 1143.4 1072.2 C1140.1 1071.5 1136.8 1070.7 1133.6 1070.0 C1130.3 1069.2 1127.0 1068.4 1123.8 1067.6 C1120.5 1066.8 1117.3 1065.9 1114.0 1065.1 C1110.8 1064.2 1107.5 1063.4 1104.3 1062.5 C1101.1 1061.6 1097.9 1060.7 1094.6 1059.8 C1091.4 1058.9 1088.2 1058.0 1085.0 1057.1 C1081.8 1056.1 1078.6 1055.2 1075.4 1054.3 C1072.1 1053.3 1068.9 1052.4 1065.7 1051.4 C1062.5 1050.5 1059.3 1049.5 1056.1 1048.6 C1052.9 1047.6 1049.7 1046.7 1046.5 1045.8 C1043.3 1044.8 1040.0 1043.9 1036.8 1042.9 C1033.6 1042.0 1030.4 1041.1 1027.2 1040.1 C1023.9 1039.2 1020.7 1038.3 1017.5 1037.3 C1014.2 1036.4 1011.0 1035.5 1007.8 1034.6 C1004.5 1033.7 1001.3 1032.8 998.1 1031.9 C994.8 1031.0 991.6 1030.1 988.4 1029.2 C985.1 1028.3 981.9 1027.4 978.6 1026.6 C975.4 1025.7 972.1 1024.8 968.9 1024.0 C965.6 1023.1 962.4 1022.3 959.1 1021.5 C955.8 1020.6 952.6 1019.8 949.3 1019.0 C946.1 1018.2 942.8 1017.4 939.5 1016.6 C936.2 1015.8 933.0 1015.0 929.7 1014.3 C926.4 1013.5 923.2 1012.8 919.9 1012.0 C916.6 1011.3 913.3 1010.6 910.0 1009.9 C906.7 1009.2 903.4 1008.5 900.2 1007.8 C896.9 1007.1 893.6 1006.5 890.3 1005.8 C887.0 1005.2 883.7 1004.5 880.4 1003.9 C877.1 1003.3 873.8 1002.7 870.5 1002.1 C867.2 1001.5 863.8 1001.0 860.5 1000.4 C857.2 999.8 853.9 999.3 850.6 998.8 C847.3 998.2 844.0 997.7 840.6 997.2 C837.3 996.7 834.0 996.2 830.7 995.7 C827.3 995.2 824.0 994.7 820.7 994.3 C817.4 993.8 814.0 993.3 810.7 992.9 C807.4 992.5 804.0 992.0 800.7 991.6 C797.4 991.2 794.0 990.8 790.7 990.4 C787.4 989.9 784.0 989.5 780.7 989.2 C777.3 988.8 774.0 988.4 770.7 988.0 C767.3 987.7 764.0 987.3 760.6 986.9 C757.3 986.6 754.0 986.2 750.6 985.9 C747.3 985.5 743.9 985.2 740.6 984.9 C737.2 984.5 733.9 984.2 730.5 983.9 C727.2 983.6 723.8 983.3 720.5 983.0 C717.1 982.7 713.8 982.4 710.4 982.1 C707.1 981.8 703.7 981.5 700.4 981.2 C697.0 980.9 693.7 980.6 690.3 980.3 C687.0 980.0 683.6 979.8 680.3 979.5 C676.9 979.2 673.6 978.9 670.2 978.7 C666.9 978.4 663.6 978.1 660.2 977.9 C656.9 977.6 653.5 977.4 650.2 977.1 C646.8 976.9 643.5 976.6 640.1 976.4 C636.8 976.1 633.4 975.9 630.1 975.6 C626.7 975.4 623.4 975.2 620.0 975.0 C616.6 974.7 613.3 974.5 609.9 974.3 C606.6 974.1 603.2 973.9 599.9 973.6 C596.5 973.4 593.2 973.2 589.8 973.0 C586.5 972.8 583.1 972.6 579.8 972.5 C576.4 972.3 573.1 972.1 569.7 971.9 C566.4 971.7 563.0 971.5 559.7 971.4 C556.3 971.2 553.0 971.0 549.6 970.9 C546.3 970.7 542.9 970.6 539.5 970.4 C536.2 970.3 532.8 970.1 529.5 970.0 C526.1 969.8 522.8 969.7 519.4 969.6 C516.1 969.4 512.7 969.3 509.3 969.2 C506.0 969.1 502.6 969.0 499.3 968.8 C495.9 968.7 492.6 968.6 489.2 968.5 C485.8 968.4 482.5 968.3 479.1 968.3 C475.8 968.2 472.4 968.1 469.0 968.0 C465.7 967.9 462.3 967.9 459.0 967.8 C455.6 967.7 452.2 967.7 448.9 967.6 C445.5 967.6 442.2 967.5 438.8 967.5 C435.4 967.5 430.4 967.4 428.7 967.4 L428.7 967.4 C428.7 967.2 428.7 966.4 428.7 965.9 C428.7 965.4 428.7 964.9 428.7 964.4 C428.8 963.8 428.8 963.3 428.8 962.8 C428.9 962.3 428.9 961.7 428.9 961.2 C429.0 960.7 429.1 960.2 429.1 959.6 C429.2 959.1 429.3 958.6 429.4 958.1 C429.5 957.5 429.6 957.0 429.7 956.5 C429.8 956.0 429.9 955.4 430.0 954.9 C430.2 954.4 430.3 953.9 430.5 953.4 C430.6 952.9 430.8 952.4 431.0 952.0 C431.2 951.5 431.4 951.0 431.6 950.6 C431.8 950.1 432.0 949.7 432.2 949.2 C432.5 948.8 432.7 948.4 433.0 948.0 C433.3 947.6 433.6 947.2 433.9 946.8 C434.2 946.4 434.5 946.0 434.8 945.7 C435.1 945.4 435.5 945.0 435.9 944.7 C436.2 944.4 436.6 944.1 437.0 943.9 C437.4 943.6 437.8 943.4 438.3 943.1 C438.7 942.9 439.2 942.7 439.6 942.5 C440.1 942.4 440.6 942.2 441.1 942.1 C441.6 941.9 442.1 941.8 442.6 941.7 C443.1 941.5 443.6 941.4 444.2 941.3 C444.7 941.3 445.2 941.2 445.7 941.1 C446.3 941.0 446.8 941.0 447.4 940.9 C447.9 940.9 448.4 940.8 449.0 940.8 C449.5 940.8 450.0 940.7 450.5 940.7 C451.1 940.7 451.6 940.7 452.1 940.6 C452.6 940.6 453.1 940.6 453.6 940.6 C454.1 940.5 454.8 940.5 455.0 940.5 L455.0 940.5 C456.7 940.4 461.7 940.0 465.0 939.7 C468.4 939.5 471.7 939.2 475.1 939.0 C478.4 938.7 481.7 938.5 485.1 938.2 C488.4 938.0 491.8 937.7 495.1 937.5 C498.5 937.3 501.8 937.0 505.1 936.8 C508.5 936.6 511.8 936.3 515.2 936.1 C518.5 935.9 521.9 935.6 525.2 935.4 C528.6 935.2 531.9 935.0 535.2 934.8 C538.6 934.5 541.9 934.3 545.3 934.1 C548.6 933.9 552.0 933.7 555.3 933.5 C558.7 933.3 562.0 933.0 565.4 932.8 C568.7 932.6 572.0 932.4 575.4 932.2 C578.7 932.0 582.1 931.8 585.4 931.6 C588.8 931.4 592.1 931.2 595.5 931.1 C598.8 930.9 602.2 930.7 605.5 930.5 C608.8 930.3 612.2 930.1 615.5 929.9 C618.9 929.7 622.2 929.6 625.6 929.4 C628.9 929.2 632.3 929.0 635.6 928.8 C639.0 928.7 642.3 928.5 645.7 928.3 C649.0 928.1 652.4 928.0 655.7 927.8 C659.1 927.6 662.4 927.5 665.7 927.3 C669.1 927.1 672.4 927.0 675.8 926.8 C679.1 926.7 682.5 926.5 685.8 926.3 C689.2 926.2 692.5 926.0 695.9 925.9 C699.2 925.7 702.6 925.6 705.9 925.4 C709.3 925.3 712.6 925.1 716.0 925.0 C719.3 924.8 722.7 924.7 726.0 924.5 C729.4 924.4 732.7 924.2 736.1 924.1 C739.4 923.9 742.8 923.8 746.1 923.7 C749.5 923.5 752.8 923.4 756.2 923.3 C759.5 923.1 762.9 923.0 766.2 922.9 C769.6 922.7 772.9 922.6 776.3 922.5 C779.6 922.3 783.0 922.2 786.3 922.1 C789.7 921.9 793.0 921.8 796.4 921.7 C799.7 921.6 803.1 921.4 806.4 921.3 C809.8 921.2 813.1 921.1 816.5 921.0 C819.8 920.8 823.2 920.7 826.5 920.6 C829.9 920.5 833.2 920.4 836.6 920.3 C839.9 920.1 843.3 920.0 846.6 919.9 C850.0 919.8 853.3 919.7 856.7 919.6 C860.0 919.5 863.4 919.4 866.7 919.3 C870.1 919.1 873.4 919.0 876.8 918.9 C880.1 918.8 883.5 918.7 886.8 918.6 C890.2 918.5 893.5 918.4 896.9 918.3 C900.2 918.2 903.6 918.1 906.9 918.0 C910.3 917.9 913.6 917.8 917.0 917.7 C920.3 917.6 923.7 917.5 927.0 917.4 C930.4 917.3 933.7 917.2 937.1 917.1 C940.4 917.0 943.8 916.9 947.1 916.8 C950.5 916.7 953.8 916.6 957.2 916.5 C960.5 916.4 963.9 916.3 967.2 916.2 C970.6 916.1 973.9 916.0 977.3 915.9 C980.6 915.8 984.0 915.7 987.3 915.6 C990.7 915.5 994.0 915.4 997.4 915.3 C1000.7 915.2 1004.1 915.1 1007.4 914.9 C1010.8 914.8 1014.1 914.7 1017.5 914.5 C1020.8 914.4 1024.2 914.3 1027.5 914.1 C1030.9 914.0 1034.2 913.8 1037.6 913.6 C1040.9 913.5 1044.3 913.3 1047.6 913.1 C1050.9 912.9 1054.3 912.8 1057.6 912.6 C1061.0 912.4 1064.3 912.2 1067.7 911.9 C1071.0 911.7 1074.3 911.5 1077.7 911.2 C1081.0 911.0 1084.4 910.8 1087.7 910.5 C1091.0 910.2 1094.4 910.0 1097.7 909.7 C1101.1 909.4 1104.4 909.1 1107.7 908.8 C1111.1 908.5 1114.4 908.1 1117.7 907.8 C1121.1 907.5 1124.4 907.1 1127.7 906.7 C1131.1 906.4 1134.4 906.0 1137.7 905.6 C1141.0 905.2 1144.4 904.7 1147.7 904.3 C1151.0 903.9 1154.3 903.4 1157.7 903.0 C1161.0 902.5 1164.3 902.0 1167.6 901.5 C1171.0 901.0 1174.3 900.4 1177.6 899.9 C1180.9 899.4 1184.2 898.8 1187.5 898.2 C1190.9 897.6 1194.2 897.0 1197.5 896.4 C1200.8 895.8 1204.1 895.1 1207.4 894.4 C1210.7 893.8 1214.0 893.1 1217.3 892.3 C1220.6 891.6 1223.9 890.8 1227.2 890.0 C1230.4 889.1 1233.6 888.2 1236.8 887.2 C1239.9 886.1 1243.1 885.0 1246.1 883.8 C1249.2 882.5 1252.2 881.1 1255.1 879.6 C1258.0 878.0 1260.8 876.3 1263.5 874.4 C1266.2 872.5 1268.8 870.4 1271.4 868.2 C1273.9 866.0 1276.3 863.6 1278.7 861.2 C1281.1 858.7 1283.4 856.2 1285.6 853.6 C1287.8 851.0 1290.0 848.3 1292.1 845.6 C1294.1 842.9 1296.2 840.2 1298.2 837.4 C1300.1 834.7 1302.1 831.9 1303.9 829.2 C1305.8 826.4 1307.6 823.6 1309.4 820.8 C1311.2 817.9 1312.9 815.1 1314.6 812.2 C1316.3 809.4 1318.0 806.5 1319.6 803.6 C1321.2 800.7 1322.8 797.8 1324.4 794.8 C1325.9 791.9 1327.4 788.9 1329.0 786.0 C1330.5 783.0 1331.9 780.0 1333.4 777.0 C1334.9 774.0 1336.3 771.0 1337.7 767.9 C1339.1 764.9 1340.5 761.9 1341.9 758.8 C1343.3 755.8 1344.7 752.7 1346.0 749.7 C1347.4 746.6 1348.7 743.5 1350.0 740.5 C1351.3 737.4 1352.7 734.3 1354.0 731.2 C1355.3 728.1 1356.6 725.0 1357.9 722.0 C1359.1 718.9 1360.4 715.8 1361.7 712.7 C1363.0 709.6 1364.2 706.5 1365.5 703.4 C1366.7 700.3 1368.0 697.2 1369.3 694.1 C1370.5 691.0 1371.8 687.9 1373.0 684.8 C1374.3 681.7 1375.5 678.6 1376.8 675.5 C1378.0 672.4 1379.3 669.3 1380.5 666.2 C1381.8 663.1 1383.0 660.0 1384.3 656.9 C1385.6 653.8 1386.9 650.7 1388.2 647.7 C1389.5 644.6 1390.9 641.5 1392.3 638.5 C1393.7 635.5 1395.1 632.4 1396.5 629.4 C1398.0 626.4 1399.5 623.4 1401.1 620.4 C1402.7 617.4 1404.3 614.5 1406.0 611.6 C1407.7 608.6 1409.4 605.7 1411.3 602.8 C1413.1 600.0 1415.0 597.0 1417.0 594.3 C1419.0 591.6 1421.1 588.8 1423.5 586.5 C1425.9 584.3 1428.4 582.2 1431.2 580.9 C1434.1 579.6 1437.5 578.9 1440.6 578.7 C1443.8 578.5 1447.1 578.9 1450.1 579.7 C1453.2 580.5 1456.1 581.8 1458.9 583.4 C1461.7 585.0 1464.4 587.0 1467.0 589.1 C1469.6 591.3 1472.1 593.8 1474.5 596.3 C1476.9 598.8 1479.3 601.6 1481.5 604.4 C1483.7 607.2 1485.8 610.1 1487.9 612.9 C1490.0 615.7 1492.0 618.5 1493.9 621.2 C1495.9 624.0 1497.7 626.7 1499.6 629.5 C1501.5 632.2 1503.3 634.9 1505.2 637.6 C1507.0 640.3 1508.8 642.9 1510.7 645.6 C1512.6 648.2 1514.5 650.9 1516.4 653.5 C1518.4 656.1 1520.4 658.8 1522.5 661.4 C1524.5 664.0 1526.6 666.6 1528.8 669.1 C1531.0 671.7 1533.2 674.2 1535.5 676.8 C1537.7 679.3 1540.1 681.7 1542.4 684.2 C1544.8 686.6 1547.2 689.0 1549.7 691.4 C1552.1 693.7 1554.7 696.0 1557.2 698.2 C1559.8 700.5 1562.4 702.7 1565.0 704.8 C1567.6 706.9 1570.3 709.0 1573.0 711.0 C1575.8 713.0 1578.5 714.9 1581.3 716.7 C1584.1 718.6 1587.0 720.3 1589.8 722.1 C1592.7 723.8 1595.6 725.4 1598.6 727.0 C1601.5 728.6 1604.4 730.1 1607.4 731.6 C1610.4 733.1 1613.4 734.5 1616.5 735.9 C1619.5 737.3 1622.6 738.6 1625.6 739.9 C1628.7 741.2 1631.8 742.5 1634.9 743.7 C1638.0 744.9 1641.1 746.1 1644.3 747.3 C1647.4 748.4 1650.5 749.6 1653.7 750.7 C1656.8 751.8 1660.0 752.9 1663.1 753.9 C1666.3 755.0 1669.5 756.0 1672.7 757.0 C1675.9 758.0 1679.1 758.9 1682.3 759.9 C1685.5 760.8 1688.7 761.8 1691.9 762.7 C1695.1 763.6 1698.4 764.4 1701.6 765.3 C1704.9 766.1 1708.1 766.9 1711.3 767.8 C1714.6 768.6 1717.9 769.3 1721.1 770.1 C1724.4 770.9 1727.7 771.6 1730.9 772.3 C1734.2 773.0 1737.5 773.7 1740.8 774.4 C1744.1 775.1 1747.4 775.8 1750.7 776.4 C1754.0 777.1 1757.3 777.7 1760.6 778.3 C1763.9 778.9 1767.2 779.5 1770.5 780.1 C1773.8 780.7 1777.1 781.2 1780.4 781.8 C1783.8 782.3 1787.1 782.8 1790.4 783.4 C1793.7 783.9 1797.0 784.4 1800.4 784.9 C1803.7 785.4 1807.0 785.9 1810.4 786.3 C1813.7 786.8 1817.0 787.2 1820.3 787.7 C1823.7 788.1 1827.0 788.6 1830.3 789.0 C1833.7 789.4 1837.0 789.8 1840.3 790.2 C1843.6 790.7 1847.0 791.0 1850.3 791.4 C1853.6 791.8 1857.0 792.2 1860.3 792.6 C1863.6 792.9 1867.0 793.3 1870.3 793.6 C1873.6 794.0 1877.0 794.3 1880.3 794.7 C1883.6 795.0 1887.0 795.3 1890.3 795.6 C1893.6 795.9 1897.0 796.2 1900.3 796.5 C1903.6 796.8 1907.0 797.1 1910.3 797.4 C1913.6 797.7 1917.0 798.0 1920.3 798.3 C1923.7 798.5 1927.0 798.8 1930.3 799.0 C1933.7 799.3 1937.0 799.6 1940.3 799.8 C1943.7 800.0 1947.0 800.3 1950.4 800.5 C1953.7 800.7 1957.0 801.0 1960.4 801.2 C1963.7 801.4 1967.1 801.6 1970.4 801.8 C1973.7 802.1 1977.1 802.3 1980.4 802.5 C1983.8 802.7 1987.1 802.9 1990.4 803.1 C1993.8 803.3 1997.1 803.4 2000.5 803.6 C2003.8 803.8 2007.2 804.0 2010.5 804.2 C2013.8 804.4 2017.2 804.5 2020.5 804.7 C2023.9 804.9 2027.2 805.1 2030.6 805.2 C2033.9 805.4 2037.3 805.6 2040.6 805.7 C2043.9 805.9 2047.3 806.0 2050.6 806.2 C2054.0 806.4 2057.3 806.5 2060.7 806.7 C2064.0 806.8 2067.4 807.0 2070.7 807.1 C2074.1 807.3 2077.4 807.5 2080.8 807.6 C2084.1 807.8 2087.5 807.9 2090.8 808.1 C2094.2 808.2 2097.5 808.4 2100.9 808.5 C2104.2 808.7 2107.6 808.8 2110.9 809.0 C2114.3 809.1 2117.6 809.3 2121.0 809.5 C2124.3 809.6 2127.7 809.8 2131.0 809.9 C2134.4 810.1 2137.7 810.2 2141.1 810.4 C2144.4 810.6 2147.8 810.7 2151.1 810.9 C2154.5 811.1 2159.5 811.3 2161.2 811.4" stroke="#82CFFE"/>
<path d="M2161.0 840.3 C2159.3 840.4 2154.3 840.8 2150.9 841.0 C2147.6 841.3 2144.2 841.5 2140.9 841.7 C2137.5 842.0 2134.2 842.2 2130.8 842.4 C2127.5 842.6 2124.1 842.8 2120.8 843.0 C2117.4 843.2 2114.0 843.4 2110.7 843.6 C2107.3 843.8 2104.0 844.0 2100.6 844.2 C2097.3 844.4 2093.9 844.6 2090.6 844.7 C2087.2 844.9 2083.9 845.1 2080.5 845.2 C2077.2 845.4 2073.8 845.6 2070.5 845.7 C2067.1 845.9 2063.8 846.0 2060.4 846.1 C2057.1 846.3 2053.7 846.4 2050.3 846.6 C2047.0 846.7 2043.6 846.8 2040.3 846.9 C2036.9 847.1 2033.6 847.2 2030.2 847.3 C2026.9 847.4 2023.5 847.5 2020.2 847.6 C2016.8 847.7 2013.5 847.8 2010.1 847.9 C2006.8 848.0 2003.4 848.1 2000.1 848.2 C1996.7 848.3 1993.4 848.4 1990.0 848.4 C1986.7 848.5 1983.3 848.6 1980.0 848.7 C1976.6 848.7 1973.3 848.8 1969.9 848.9 C1966.6 848.9 1963.2 849.0 1959.9 849.1 C1956.5 849.1 1953.1 849.2 1949.8 849.2 C1946.4 849.3 1943.1 849.3 1939.7 849.4 C1936.4 849.4 1933.0 849.5 1929.7 849.5 C1926.3 849.5 1923.0 849.6 1919.6 849.6 C1916.3 849.6 1912.9 849.7 1909.6 849.7 C1906.2 849.7 1902.9 849.8 1899.5 849.8 C1896.2 849.8 1892.8 849.8 1889.5 849.8 C1886.1 849.9 1882.7 849.9 1879.4 849.9 C1876.0 849.9 1872.7 849.9 1869.3 849.9 C1866.0 849.9 1862.6 849.9 1859.3 849.9 C1855.9 850.0 1852.6 850.0 1849.2 850.0 C1845.9 850.0 1842.5 850.0 1839.2 850.0 C1835.8 850.0 1832.4 849.9 1829.1 849.9 C1825.7 849.9 1822.4 849.9 1819.0 849.9 C1815.7 849.9 1812.3 849.9 1809.0 849.9 C1805.6 849.9 1802.2 849.9 1798.9 849.9 C1795.5 849.8 1792.2 849.8 1788.8 849.8 C1785.5 849.8 1782.1 849.8 1778.8 849.8 C1775.4 849.7 1772.0 849.7 1768.7 849.7 C1765.3 849.7 1762.0 849.7 1758.6 849.7 C1755.3 849.6 1751.9 849.6 1748.5 849.6 C1745.2 849.6 1741.8 849.6 1738.5 849.5 C1735.1 849.5 1731.8 849.5 1728.4 849.5 C1725.0 849.4 1721.7 849.4 1718.3 849.4 C1715.0 849.4 1711.6 849.4 1708.2 849.3 C1704.9 849.3 1701.5 849.3 1698.2 849.3 C1694.8 849.3 1691.4 849.2 1688.1 849.2 C1684.7 849.2 1681.3 849.2 1678.0 849.2 C1674.6 849.1 1671.3 849.1 1667.9 849.1 C1664.5 849.1 1661.2 849.1 1657.8 849.1 C1654.4 849.0 1651.1 849.0 1647.7 849.0 C1644.4 849.0 1641.0 849.0 1637.6 849.0 C1634.3 849.0 1630.9 849.0 1627.5 848.9 C1624.2 848.9 1620.8 848.9 1617.4 848.9 C1614.1 848.9 1610.7 848.9 1607.3 848.9 C1604.0 848.9 1600.6 848.9 1597.2 848.9 C1593.9 849.0 1590.5 849.0 1587.1 849.0 C1583.8 849.1 1580.4 849.1 1577.0 849.2 C1573.7 849.2 1570.3 849.3 1567.0 849.4 C1563.6 849.5 1560.2 849.6 1556.9 849.7 C1553.5 849.8 1550.2 849.9 1546.8 850.1 C1543.5 850.3 1540.1 850.5 1536.8 850.7 C1533.4 850.9 1530.1 851.1 1526.8 851.4 C1523.4 851.6 1520.1 851.9 1516.7 852.2 C1513.4 852.6 1510.1 852.9 1506.7 853.3 C1503.4 853.7 1500.1 854.1 1496.8 854.5 C1493.5 855.0 1490.1 855.4 1486.8 856.0 C1483.5 856.5 1480.2 857.0 1476.9 857.6 C1473.6 858.2 1470.3 858.9 1467.0 859.5 C1463.7 860.2 1460.4 860.9 1457.2 861.7 C1453.9 862.5 1450.7 863.4 1447.5 864.4 C1444.3 865.4 1441.1 866.4 1438.1 867.6 C1435.0 868.9 1432.0 870.2 1429.0 871.7 C1426.1 873.2 1423.2 874.9 1420.4 876.7 C1417.7 878.5 1415.0 880.5 1412.4 882.5 C1409.7 884.6 1407.2 886.8 1404.8 889.0 C1402.3 891.3 1400.0 893.7 1397.7 896.1 C1395.4 898.6 1393.2 901.1 1391.1 903.7 C1388.9 906.3 1386.9 909.0 1384.9 911.7 C1382.9 914.4 1381.0 917.2 1379.1 920.0 C1377.2 922.8 1375.3 925.7 1373.5 928.5 C1371.6 931.4 1369.8 934.3 1368.0 937.2 C1366.2 940.1 1364.4 943.0 1362.6 945.9 C1360.8 948.8 1359.0 951.7 1357.1 954.5 C1355.3 957.4 1353.4 960.2 1351.5 963.0 C1349.6 965.8 1347.7 968.6 1345.7 971.3 C1343.7 974.0 1341.7 976.7 1339.5 979.3 C1337.4 981.9 1335.2 984.4 1332.9 986.8 C1330.6 989.3 1328.3 991.7 1325.8 993.9 C1323.3 996.2 1320.8 998.4 1318.1 1000.4 C1315.5 1002.5 1312.7 1004.4 1309.9 1006.2 C1307.1 1008.1 1304.2 1009.8 1301.2 1011.3 C1298.3 1012.9 1295.2 1014.3 1292.2 1015.6 C1289.1 1016.9 1286.0 1018.0 1282.8 1018.9 C1279.6 1019.9 1276.4 1020.7 1273.2 1021.3 C1270.0 1021.9 1266.7 1022.3 1263.4 1022.6 C1260.1 1022.8 1256.8 1022.8 1253.5 1022.7 C1250.2 1022.6 1246.9 1022.3 1243.5 1021.9 C1240.2 1021.4 1236.9 1020.9 1233.6 1020.2 C1230.2 1019.6 1226.9 1018.8 1223.6 1017.9 C1220.3 1017.1 1217.0 1016.2 1213.7 1015.3 C1210.4 1014.3 1207.1 1013.4 1203.9 1012.4 C1200.6 1011.4 1197.4 1010.4 1194.1 1009.3 C1190.9 1008.3 1187.7 1007.3 1184.5 1006.2 C1181.3 1005.1 1178.1 1004.1 1174.9 1003.0 C1171.7 1001.9 1168.5 1000.8 1165.4 999.7 C1162.2 998.6 1159.0 997.6 1155.9 996.5 C1152.7 995.4 1149.6 994.3 1146.4 993.2 C1143.2 992.1 1140.1 991.0 1136.9 990.0 C1133.8 988.9 1130.6 987.8 1127.4 986.8 C1124.3 985.8 1121.1 984.7 1117.9 983.7 C1114.7 982.7 1111.6 981.7 1108.4 980.8 C1105.2 979.8 1102.0 978.9 1098.7 978.0 C1095.5 977.0 1092.3 976.2 1089.1 975.3 C1085.8 974.4 1082.6 973.6 1079.3 972.8 C1076.1 971.9 1072.8 971.1 1069.5 970.4 C1066.3 969.6 1063.0 968.8 1059.7 968.1 C1056.4 967.3 1053.1 966.6 1049.8 965.9 C1046.5 965.2 1043.2 964.5 1039.9 963.9 C1036.6 963.2 1033.3 962.5 1030.0 961.9 C1026.7 961.3 1023.4 960.6 1020.1 960.0 C1016.8 959.4 1013.5 958.8 1010.2 958.3 C1006.8 957.7 1003.5 957.1 1000.2 956.6 C996.9 956.0 993.6 955.5 990.2 955.0 C986.9 954.5 983.6 953.9 980.3 953.4 C977.0 952.9 973.7 952.5 970.3 952.0 C967.0 951.5 963.7 951.0 960.4 950.6 C957.1 950.1 953.7 949.7 950.4 949.2 C947.1 948.8 943.8 948.3 940.4 947.9 C937.1 947.5 933.8 947.1 930.5 946.7 C927.1 946.3 923.8 945.9 920.5 945.5 C917.2 945.1 913.8 944.7 910.5 944.3 C907.2 943.9 903.8 943.6 900.5 943.2 C897.2 942.8 893.8 942.5 890.5 942.1 C887.2 941.8 883.8 941.4 880.5 941.1 C877.2 940.7 873.8 940.4 870.5 940.0 C867.2 939.7 863.8 939.4 860.5 939.1 C857.1 938.7 853.8 938.4 850.5 938.1 C847.1 937.8 843.8 937.5 840.4 937.2 C837.1 936.9 833.8 936.6 830.4 936.3 C827.1 936.0 823.7 935.7 820.4 935.4 C817.0 935.2 813.7 934.9 810.3 934.6 C807.0 934.3 803.6 934.1 800.3 933.8 C796.9 933.6 793.6 933.3 790.2 933.1 C786.9 932.8 783.5 932.6 780.2 932.4 C776.8 932.1 773.5 931.9 770.1 931.7 C766.8 931.5 763.4 931.2 760.1 931.0 C756.7 930.8 753.4 930.6 750.0 930.4 C746.7 930.2 743.3 930.0 740.0 929.9 C736.6 929.7 733.3 929.5 729.9 929.3 C726.6 929.1 723.2 929.0 719.9 928.8 C716.5 928.7 713.1 928.5 709.8 928.4 C706.4 928.2 703.1 928.1 699.7 927.9 C696.4 927.8 693.0 927.7 689.7 927.6 C686.3 927.4 683.0 927.3 679.6 927.2 C676.3 927.1 672.9 927.0 669.5 926.9 C666.2 926.8 662.8 926.7 659.5 926.6 C656.1 926.5 652.8 926.4 649.4 926.3 C646.1 926.2 642.7 926.2 639.4 926.1 C636.0 926.0 632.6 925.9 629.3 925.9 C625.9 925.8 622.6 925.7 619.2 925.7 C615.9 925.6 612.5 925.5 609.2 925.5 C605.8 925.4 602.4 925.3 599.1 925.3 C595.7 925.2 592.4 925.2 589.0 925.1 C585.7 925.0 582.3 925.0 579.0 924.9 C575.6 924.9 572.3 924.8 568.9 924.8 C565.5 924.7 562.2 924.6 558.8 924.6 C555.5 924.5 552.1 924.5 548.8 924.4 C545.4 924.3 542.1 924.3 538.7 924.2 C535.4 924.2 532.0 924.1 528.6 924.0 C525.3 924.0 521.9 923.9 518.6 923.8 C515.2 923.7 511.9 923.7 508.5 923.6 C505.2 923.5 501.8 923.4 498.4 923.3 C495.1 923.2 491.7 923.1 488.4 923.0 C485.0 922.9 481.7 922.8 478.3 922.7 C475.0 922.6 471.6 922.5 468.3 922.4 C464.9 922.3 461.5 922.2 458.2 922.0 C454.8 921.9 451.5 921.8 448.1 921.6 C444.8 921.5 441.4 921.3 438.1 921.2 C434.7 921.0 429.7 920.8 428.0 920.7 L428.0 920.7 C429.7 920.6 434.7 920.3 438.1 920.1 C441.4 920.0 444.8 919.8 448.1 919.6 C451.5 919.4 454.9 919.2 458.2 919.1 C461.6 918.9 464.9 918.7 468.3 918.6 C471.6 918.4 475.0 918.2 478.4 918.1 C481.7 917.9 485.1 917.8 488.4 917.6 C491.8 917.5 495.1 917.3 498.5 917.2 C501.9 917.0 505.2 916.9 508.6 916.7 C511.9 916.6 515.3 916.5 518.6 916.3 C522.0 916.2 525.3 916.1 528.7 915.9 C532.1 915.8 535.4 915.7 538.8 915.6 C542.1 915.4 545.5 915.3 548.8 915.2 C552.2 915.1 555.6 915.0 558.9 914.8 C562.3 914.7 565.6 914.6 569.0 914.5 C572.3 914.4 575.7 914.3 579.0 914.2 C582.4 914.1 585.8 914.0 589.1 913.9 C592.5 913.8 595.8 913.7 599.2 913.6 C602.5 913.5 605.9 913.4 609.2 913.3 C612.6 913.2 616.0 913.1 619.3 913.0 C622.7 913.0 626.0 912.9 629.4 912.8 C632.7 912.7 636.1 912.6 639.4 912.5 C642.8 912.5 646.2 912.4 649.5 912.3 C652.9 912.2 656.2 912.2 659.6 912.1 C662.9 912.0 666.3 911.9 669.6 911.9 C673.0 911.8 676.4 911.7 679.7 911.7 C683.1 911.6 686.4 911.5 689.8 911.5 C693.1 911.4 696.5 911.3 699.8 911.3 C703.2 911.2 706.6 911.2 709.9 911.1 C713.3 911.0 716.6 911.0 720.0 910.9 C723.3 910.9 726.7 910.8 730.0 910.7 C733.4 910.7 736.8 910.6 740.1 910.6 C743.5 910.5 746.8 910.5 750.2 910.4 C753.5 910.4 756.9 910.3 760.2 910.3 C763.6 910.2 767.0 910.2 770.3 910.1 C773.7 910.1 777.0 910.0 780.4 910.0 C783.7 909.9 787.1 909.9 790.5 909.8 C793.8 909.8 797.2 909.7 800.5 909.7 C803.9 909.7 807.2 909.6 810.6 909.6 C814.0 909.5 817.3 909.5 820.7 909.4 C824.0 909.4 827.4 909.3 830.7 909.3 C834.1 909.3 837.5 909.2 840.8 909.2 C844.2 909.1 847.5 909.1 850.9 909.0 C854.2 909.0 857.6 908.9 861.0 908.9 C864.3 908.9 867.7 908.8 871.0 908.8 C874.4 908.7 877.8 908.7 881.1 908.6 C884.5 908.6 887.8 908.5 891.2 908.5 C894.5 908.4 897.9 908.4 901.3 908.3 C904.6 908.3 908.0 908.3 911.3 908.2 C914.7 908.2 918.1 908.1 921.4 908.1 C924.8 908.0 928.1 908.0 931.5 907.9 C934.9 907.9 938.2 907.8 941.6 907.8 C944.9 907.7 948.3 907.7 951.7 907.6 C955.0 907.5 958.4 907.5 961.7 907.4 C965.1 907.4 968.5 907.3 971.8 907.3 C975.2 907.2 978.5 907.1 981.9 907.1 C985.3 907.0 988.6 907.0 992.0 906.9 C995.4 906.8 998.7 906.8 1002.1 906.7 C1005.4 906.6 1008.8 906.6 1012.2 906.5 C1015.5 906.4 1018.9 906.4 1022.3 906.3 C1025.6 906.2 1029.0 906.1 1032.3 906.1 C1035.7 906.0 1039.1 905.9 1042.4 905.8 C1045.8 905.8 1049.2 905.7 1052.5 905.6 C1055.9 905.5 1059.3 905.4 1062.6 905.4 C1066.0 905.3 1069.4 905.2 1072.7 905.1 C1076.1 905.0 1079.5 904.9 1082.8 904.8 C1086.2 904.7 1089.5 904.6 1092.9 904.5 C1096.3 904.4 1099.6 904.3 1103.0 904.2 C1106.4 904.1 1109.7 904.0 1113.1 903.9 C1116.5 903.8 1119.8 903.7 1123.2 903.6 C1126.6 903.5 1129.9 903.3 1133.3 903.2 C1136.7 903.0 1140.0 902.8 1143.4 902.6 C1146.7 902.4 1150.1 902.2 1153.4 902.0 C1156.8 901.7 1160.1 901.4 1163.4 901.1 C1166.8 900.8 1170.1 900.5 1173.4 900.1 C1176.7 899.7 1180.0 899.3 1183.3 898.8 C1186.6 898.3 1189.9 897.8 1193.2 897.2 C1196.5 896.6 1199.8 896.0 1203.0 895.3 C1206.3 894.6 1209.5 893.8 1212.8 893.0 C1216.0 892.2 1219.2 891.3 1222.4 890.3 C1225.6 889.4 1228.8 888.4 1232.0 887.3 C1235.2 886.2 1238.3 885.0 1241.4 883.7 C1244.5 882.5 1247.6 881.2 1250.6 879.8 C1253.7 878.3 1256.7 876.9 1259.6 875.3 C1262.6 873.7 1265.5 872.1 1268.4 870.3 C1271.2 868.6 1274.0 866.8 1276.8 864.8 C1279.6 862.9 1282.3 860.9 1284.9 858.8 C1287.5 856.7 1290.1 854.5 1292.6 852.2 C1295.1 849.9 1297.6 847.5 1300.0 845.1 C1302.4 842.7 1304.7 840.2 1306.9 837.6 C1309.2 835.0 1311.4 832.4 1313.5 829.7 C1315.6 827.0 1317.7 824.3 1319.7 821.5 C1321.7 818.8 1323.6 816.0 1325.5 813.1 C1327.4 810.3 1329.2 807.4 1330.9 804.6 C1332.6 801.7 1334.3 798.8 1335.9 795.9 C1337.5 793.0 1339.0 790.1 1340.5 787.2 C1342.0 784.3 1343.3 781.4 1344.7 778.4 C1346.1 775.5 1347.5 772.6 1348.8 769.6 C1350.1 766.7 1351.5 763.7 1352.8 760.7 C1354.2 757.7 1355.5 754.7 1356.9 751.7 C1358.4 748.7 1359.8 745.6 1361.3 742.5 C1362.9 739.4 1364.4 736.2 1366.1 733.1 C1367.8 730.0 1369.5 726.9 1371.4 723.9 C1373.2 720.9 1375.1 717.9 1377.2 715.2 C1379.3 712.4 1381.4 709.7 1383.7 707.3 C1386.0 704.9 1388.4 702.6 1391.0 700.7 C1393.5 698.8 1396.2 697.0 1399.1 695.7 C1401.9 694.4 1405.0 693.3 1408.1 692.7 C1411.2 692.1 1414.6 691.9 1417.9 692.0 C1421.2 692.2 1424.7 692.7 1427.9 693.6 C1431.1 694.5 1434.3 695.8 1437.2 697.5 C1440.1 699.1 1442.7 701.2 1445.3 703.4 C1447.9 705.5 1450.3 708.0 1452.8 710.4 C1455.3 712.8 1457.7 715.2 1460.1 717.5 C1462.6 719.9 1465.1 722.2 1467.6 724.5 C1470.1 726.8 1472.6 729.0 1475.1 731.3 C1477.6 733.5 1480.2 735.6 1482.8 737.7 C1485.4 739.8 1488.0 741.9 1490.7 743.9 C1493.3 745.9 1496.0 747.9 1498.7 749.8 C1501.5 751.7 1504.2 753.6 1507.1 755.3 C1509.9 757.1 1512.7 758.8 1515.6 760.5 C1518.5 762.2 1521.5 763.8 1524.4 765.3 C1527.4 766.8 1530.4 768.3 1533.5 769.8 C1536.5 771.2 1539.6 772.6 1542.7 773.9 C1545.7 775.2 1548.9 776.5 1552.0 777.7 C1555.1 779.0 1558.3 780.1 1561.5 781.3 C1564.7 782.4 1567.9 783.5 1571.1 784.6 C1574.3 785.6 1577.5 786.6 1580.7 787.6 C1583.9 788.6 1587.2 789.5 1590.4 790.4 C1593.6 791.3 1596.9 792.2 1600.1 793.0 C1603.4 793.9 1606.7 794.7 1609.9 795.4 C1613.2 796.2 1616.4 797.0 1619.7 797.7 C1623.0 798.4 1626.3 799.1 1629.6 799.8 C1632.8 800.5 1636.1 801.1 1639.4 801.8 C1642.7 802.4 1646.0 803.0 1649.3 803.6 C1652.6 804.2 1655.9 804.8 1659.2 805.4 C1662.5 806.0 1665.8 806.5 1669.1 807.1 C1672.4 807.6 1675.7 808.2 1679.1 808.7 C1682.4 809.2 1685.7 809.8 1689.0 810.3 C1692.3 810.8 1695.6 811.3 1699.0 811.9 C1702.3 812.4 1705.6 812.9 1708.9 813.4 C1712.2 813.9 1715.6 814.4 1718.9 814.9 C1722.2 815.3 1725.5 815.8 1728.9 816.3 C1732.2 816.8 1735.5 817.2 1738.9 817.7 C1742.2 818.1 1745.5 818.6 1748.8 819.0 C1752.2 819.4 1755.5 819.9 1758.8 820.3 C1762.2 820.7 1765.5 821.1 1768.8 821.5 C1772.2 821.9 1775.5 822.3 1778.9 822.7 C1782.2 823.1 1785.5 823.5 1788.9 823.8 C1792.2 824.2 1795.6 824.5 1798.9 824.9 C1802.2 825.2 1805.6 825.6 1808.9 825.9 C1812.3 826.2 1815.6 826.5 1819.0 826.8 C1822.3 827.1 1825.6 827.4 1829.0 827.7 C1832.3 828.0 1835.7 828.2 1839.0 828.5 C1842.4 828.8 1845.7 829.0 1849.1 829.3 C1852.4 829.5 1855.8 829.7 1859.1 829.9 C1862.5 830.2 1865.8 830.4 1869.2 830.6 C1872.5 830.8 1875.9 831.0 1879.2 831.2 C1882.6 831.4 1885.9 831.5 1889.3 831.7 C1892.6 831.9 1896.0 832.1 1899.3 832.2 C1902.7 832.4 1906.0 832.5 1909.4 832.7 C1912.7 832.8 1916.1 832.9 1919.5 833.1 C1922.8 833.2 1926.2 833.3 1929.5 833.5 C1932.9 833.6 1936.2 833.7 1939.6 833.8 C1942.9 833.9 1946.3 834.0 1949.7 834.1 C1953.0 834.2 1956.4 834.3 1959.7 834.4 C1963.1 834.5 1966.4 834.6 1969.8 834.7 C1973.2 834.7 1976.5 834.8 1979.9 834.9 C1983.2 835.0 1986.6 835.0 1989.9 835.1 C1993.3 835.2 1996.7 835.2 2000.0 835.3 C2003.4 835.4 2006.7 835.4 2010.1 835.5 C2013.5 835.6 2016.8 835.6 2020.2 835.7 C2023.5 835.7 2026.9 835.8 2030.3 835.8 C2033.6 835.9 2037.0 835.9 2040.3 836.0 C2043.7 836.0 2047.0 836.1 2050.4 836.1 C2053.8 836.2 2057.1 836.2 2060.5 836.3 C2063.8 836.3 2067.2 836.4 2070.6 836.4 C2073.9 836.5 2077.3 836.6 2080.6 836.6 C2084.0 836.7 2087.4 836.7 2090.7 836.8 C2094.1 836.8 2097.4 836.9 2100.8 837.0 C2104.1 837.0 2107.5 837.1 2110.9 837.1 C2114.2 837.2 2117.6 837.3 2120.9 837.4 C2124.3 837.4 2127.6 837.5 2131.0 837.6 C2134.4 837.7 2137.7 837.7 2141.1 837.8 C2144.4 837.9 2147.8 838.0 2151.1 838.1 C2154.5 838.2 2159.5 838.4 2161.2 838.4" stroke="#B7E4FE"/>
</g>
<g fill="#000" shape-rendering="crispEdges">
<rect x="309" y="58" width="7" height="1599"/>
<rect x="281" y="1638" width="1999" height="7"/>
<rect x="281" y="58" width="30" height="7"/>
<rect x="281" y="321" width="30" height="7"/>
<rect x="281" y="585" width="30" height="7"/>
<rect x="281" y="848" width="30" height="7"/>
<rect x="281" y="1111" width="30" height="7"/>
<rect x="281" y="1375" width="30" height="7"/>
<rect x="295" y="190" width="16" height="7"/>
<rect x="295" y="453" width="16" height="7"/>
<rect x="295" y="716" width="16" height="7"/>
<rect x="295" y="980" width="16" height="7"/>
<rect x="295" y="1243" width="16" height="7"/>
<rect x="295" y="1506" width="16" height="7"/>
<rect x="424" y="1640" width="7" height="32"/>
<rect x="540" y="1640" width="7" height="17"/>
<rect x="655" y="1640" width="7" height="32"/>
<rect x="771" y="1640" width="7" height="17"/>
<rect x="886" y="1640" width="7" height="32"/>
<rect x="1002" y="1640" width="7" height="17"/>
<rect x="1117" y="1640" width="7" height="32"/>
<rect x="1233" y="1640" width="7" height="17"/>
<rect x="1348" y="1640" width="7" height="32"/>
<rect x="1464" y="1640" width="7" height="17"/>
<rect x="1579" y="1640" width="7" height="32"/>
<rect x="1695" y="1640" width="7" height="17"/>
<rect x="1810" y="1640" width="7" height="32"/>
<rect x="1926" y="1640" width="7" height="17"/>
<rect x="2041" y="1640" width="7" height="32"/>
<rect x="2157" y="1640" width="7" height="17"/>
<rect x="2272" y="1640" width="7" height="32"/>
</g>
<g font-size="73.8" fill="#000">
<text transform="translate(260 84.2) scale(1 1.03)" text-anchor="end">3</text>
<text transform="translate(260 347.5) scale(1 1.03)" text-anchor="end">2</text>
<text transform="translate(260 610.9) scale(1 1.03)" text-anchor="end">1</text>
<text transform="translate(260 874.2) scale(1 1.03)" text-anchor="end">0</text>
<text transform="translate(260 1137.5) scale(1 1.03)" text-anchor="end">-1</text>
<text transform="translate(260 1400.9) scale(1 1.03)" text-anchor="end">-2</text>
<text transform="translate(260 1664.2) scale(1 1.03)" text-anchor="end">-3</text>
<text transform="translate(428.0 1752) scale(1 1.03)" text-anchor="middle">-0.6</text>
<text transform="translate(659.1 1752) scale(1 1.03)" text-anchor="middle">-0.4</text>
<text transform="translate(890.1 1752) scale(1 1.03)" text-anchor="middle">-0.2</text>
<text transform="translate(1121.2 1752) scale(1 1.03)" text-anchor="middle">0.0</text>
<text transform="translate(1352.3 1752) scale(1 1.03)" text-anchor="middle">0.2</text>
<text transform="translate(1583.3 1752) scale(1 1.03)" text-anchor="middle">0.4</text>
<text transform="translate(1814.4 1752) scale(1 1.03)" text-anchor="middle">0.6</text>
<text transform="translate(2045.4 1752) scale(1 1.03)" text-anchor="middle">0.8</text>
<text transform="translate(2276.5 1752) scale(1 1.03)" text-anchor="middle">1.0</text>
</g>
<text transform="translate(1295 1885.7) scale(1 1.02)" font-size="82" text-anchor="middle" fill="#000">Potential (V)</text>
<text transform="translate(102 802) rotate(-90) scale(1 1.02)" font-size="82" text-anchor="middle" fill="#000">Current density (mA/cm<tspan font-size="55.5" dx="2" dy="-33">2</tspan><tspan dx="1" dy="33">)</tspan></text>
<g font-size="82">
<rect x="430" y="135.7" width="189" height="16.4" fill="#04466F"/>
<text transform="translate(642.5 173.2) scale(1 1.02)" fill="#04466F">200 mV/s</text>
<rect x="430" y="239.5" width="189" height="16.4" fill="#0568AB"/>
<text transform="translate(642.5 277.0) scale(1 1.02)" fill="#0568AB">100 mV/s</text>
<rect x="430" y="343.3" width="189" height="16.4" fill="#4EBAFE"/>
<text transform="translate(642.5 380.8) scale(1 1.02)" fill="#4EBAFE">50 mV/s</text>
<rect x="430" y="447.1" width="189" height="16.4" fill="#82CFFE"/>
<text transform="translate(642.5 484.6) scale(1 1.02)" fill="#82CFFE">25 mV/s</text>
<rect x="430" y="550.9" width="189" height="16.4" fill="#B7E4FE"/>
<text transform="translate(642.5 588.4) scale(1 1.02)" fill="#B7E4FE">10 mV/s</text>
</g>
</svg></body></html>
